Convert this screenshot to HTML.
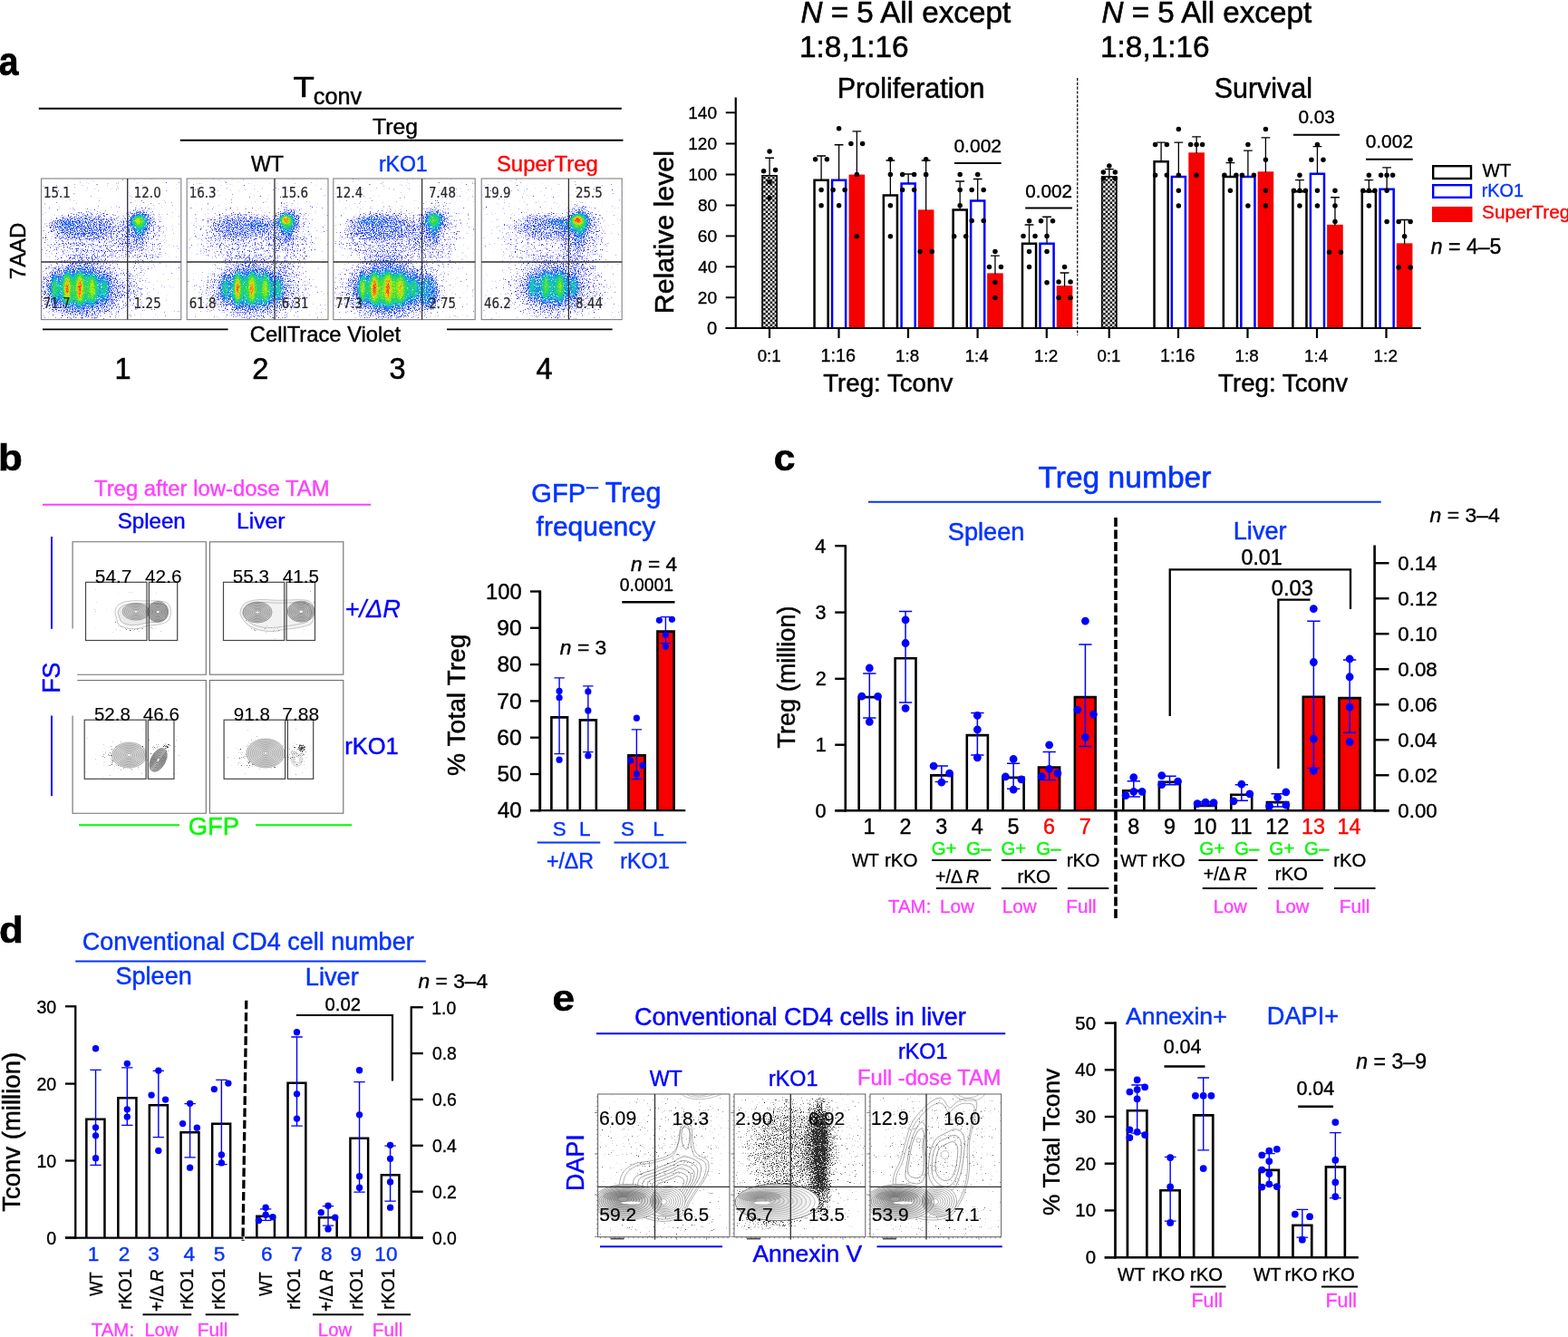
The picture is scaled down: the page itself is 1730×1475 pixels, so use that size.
<!DOCTYPE html>
<html lang="en"><head><meta charset="utf-8"><title>Figure</title>
<style>html,body{margin:0;padding:0;background:#fff}svg{display:block}text{white-space:pre}</style></head>
<body><svg width="1730" height="1475" viewBox="0 0 1730 1475" font-family="Liberation Sans, sans-serif">
<rect width="1730" height="1475" fill="#fff"/>
<defs>
<pattern id="chk" width="5" height="5" patternUnits="userSpaceOnUse" x="2.2" y="0"><rect width="5" height="5" fill="#fff"/><rect width="2.5" height="2.5" fill="#000"/><rect x="2.5" y="2.5" width="2.5" height="2.5" fill="#000"/></pattern>
<radialGradient id="gh"><stop offset="0" stop-color="#fff" stop-opacity="1"/><stop offset="0.55" stop-color="#fff" stop-opacity="0.92"/><stop offset="0.8" stop-color="#fff" stop-opacity="0.5"/><stop offset="1" stop-color="#fff" stop-opacity="0"/></radialGradient><radialGradient id="gb"><stop offset="0" stop-color="#fff" stop-opacity="1"/><stop offset="0.25" stop-color="#fff" stop-opacity="0.8"/><stop offset="0.5" stop-color="#fff" stop-opacity="0.42"/><stop offset="0.75" stop-color="#fff" stop-opacity="0.13"/><stop offset="1" stop-color="#fff" stop-opacity="0"/></radialGradient><filter id="dens" x="0" y="0" width="100%" height="100%" filterUnits="objectBoundingBox" color-interpolation-filters="sRGB"><feTurbulence type="fractalNoise" baseFrequency="0.85" numOctaves="2" seed="3" result="n"/><feColorMatrix in="SourceGraphic" type="matrix" values="0 0 0 1 0 0 0 0 1 0 0 0 0 1 0 0 0 0 0 1" result="dm"/><feColorMatrix in="n" type="matrix" values="0 1 0 0 0 0 1 0 0 0 0 1 0 0 0 0 0 0 0 1" result="n2"/><feComposite in="dm" in2="n2" operator="arithmetic" k1="0" k2="1" k3="0.4" k4="-0.2" result="v"/><feComponentTransfer in="v" result="col"><feFuncR type="table" tableValues="0.20 0.19 0.18 0.17 0.17 0.16 0.15 0.14 0.14 0.13 0.13 0.12 0.12 0.12 0.10 0.09 0.08 0.09 0.10 0.12 0.21 0.32 0.43 0.56 0.72 0.86 0.92 0.97 1.00 1.00 0.99 0.97 0.94"/><feFuncG type="table" tableValues="0.12 0.13 0.14 0.15 0.16 0.17 0.18 0.19 0.20 0.25 0.31 0.37 0.42 0.49 0.59 0.69 0.78 0.80 0.82 0.84 0.86 0.89 0.91 0.92 0.91 0.90 0.77 0.65 0.52 0.38 0.26 0.19 0.12"/><feFuncB type="table" tableValues="0.84 0.85 0.86 0.87 0.88 0.89 0.90 0.91 0.92 0.93 0.93 0.93 0.94 0.93 0.88 0.83 0.78 0.65 0.51 0.38 0.29 0.22 0.15 0.11 0.09 0.08 0.08 0.08 0.08 0.08 0.08 0.08 0.08"/></feComponentTransfer><feColorMatrix in="SourceGraphic" type="matrix" values="0 0 0 0 0 0 0 0 0 0 0 0 0 0 0 0 0 0 1 0" result="da"/><feColorMatrix in="n" type="matrix" values="0 0 0 0 0 0 0 0 0 0 0 0 0 0 0 1 0 0 0 0" result="na"/><feComposite in="da" in2="na" operator="arithmetic" k1="0" k2="6" k3="-6" k4="1.7" result="m"/><feComposite in="col" in2="m" operator="in" result="o1"/><feGaussianBlur in="o1" stdDeviation="0.45"/></filter><clipPath id="ca0"><rect x="45.5" y="197" width="154.3" height="155.6"/></clipPath><clipPath id="ca1"><rect x="206.2" y="197" width="155.8" height="155.6"/></clipPath><clipPath id="ca2"><rect x="367.8" y="197" width="156.4" height="155.6"/></clipPath><clipPath id="ca3"><rect x="531.2" y="197" width="155" height="155.6"/></clipPath>
<filter id="soft" x="-5%" y="-5%" width="110%" height="110%"><feGaussianBlur stdDeviation="0.45"/></filter>
<filter id="spk" x="0" y="0" width="100%" height="100%" filterUnits="objectBoundingBox" color-interpolation-filters="sRGB"><feTurbulence type="fractalNoise" baseFrequency="0.9" numOctaves="2" seed="7" result="n"/><feFlood flood-color="#444" result="col"/><feColorMatrix in="SourceGraphic" type="matrix" values="0 0 0 0 0 0 0 0 0 0 0 0 0 0 0 0 0 0 1 0" result="da"/><feColorMatrix in="n" type="matrix" values="0 0 0 0 0 0 0 0 0 0 0 0 0 0 0 1 0 0 0 0" result="na"/><feComposite in="da" in2="na" operator="arithmetic" k1="0" k2="6" k3="-6" k4="1.26" result="m"/><feComposite in="col" in2="m" operator="in" result="o1"/><feGaussianBlur in="o1" stdDeviation="0.3"/></filter>
<filter id="spe" x="0" y="0" width="100%" height="100%" filterUnits="objectBoundingBox" color-interpolation-filters="sRGB"><feTurbulence type="fractalNoise" baseFrequency="0.9" numOctaves="2" seed="11" result="n"/><feFlood flood-color="#2a2a2a" result="col"/><feColorMatrix in="SourceGraphic" type="matrix" values="0 0 0 0 0 0 0 0 0 0 0 0 0 0 0 0 0 0 1 0" result="da"/><feColorMatrix in="n" type="matrix" values="0 0 0 0 0 0 0 0 0 0 0 0 0 0 0 1 0 0 0 0" result="na"/><feComposite in="da" in2="na" operator="arithmetic" k1="0" k2="6" k3="-6" k4="1.5" result="m"/><feComposite in="col" in2="m" operator="in" result="o1"/><feGaussianBlur in="o1" stdDeviation="0.3"/></filter><clipPath id="ce0"><rect x="659.6" y="1207" width="145.4" height="157.6"/></clipPath><clipPath id="ce1"><rect x="810" y="1207" width="144.8" height="157.6"/></clipPath><clipPath id="ce2"><rect x="960" y="1207" width="144.6" height="157.6"/></clipPath><radialGradient id="gw"><stop offset="0" stop-color="#fff" stop-opacity="1"/><stop offset="0.85" stop-color="#fff" stop-opacity="1"/><stop offset="1" stop-color="#fff" stop-opacity="0"/></radialGradient>
</defs>
<g clip-path="url(#ca0)"><g filter="url(#dens)"><rect x="41.5" y="193" width="162.3" height="163.6" fill="#fff" opacity="0"/><ellipse cx="92" cy="320" rx="68" ry="42" fill="url(#gh)" opacity="0.21"/><ellipse cx="88" cy="319" rx="52" ry="38" fill="url(#gb)" opacity="0.45"/><ellipse cx="88" cy="319" rx="38" ry="21" fill="url(#gh)" opacity="0.2"/><ellipse cx="60" cy="318" rx="6" ry="27" fill="url(#gb)" opacity="0.4"/><ellipse cx="74" cy="318" rx="6" ry="27" fill="url(#gb)" opacity="0.8"/><ellipse cx="88" cy="318" rx="6" ry="27" fill="url(#gb)" opacity="0.8"/><ellipse cx="102" cy="318" rx="6" ry="27" fill="url(#gb)" opacity="0.45"/><ellipse cx="116" cy="318" rx="6" ry="27" fill="url(#gb)" opacity="0.25"/><ellipse cx="158" cy="262" rx="30" ry="44" fill="url(#gh)" opacity="0.14"/><ellipse cx="155" cy="254" rx="12" ry="32" fill="url(#gb)" opacity="0.23"/><ellipse cx="154" cy="245" rx="20" ry="18" fill="url(#gb)" opacity="0.5"/><ellipse cx="152" cy="243" rx="9" ry="8" fill="url(#gb)" opacity="0.5"/><ellipse cx="99.1" cy="262" rx="61.6" ry="36" fill="url(#gh)" opacity="0.18"/><ellipse cx="92" cy="250" rx="45.7" ry="17" fill="url(#gh)" opacity="0.15"/><ellipse cx="72" cy="247" rx="26" ry="9" fill="url(#gb)" opacity="0.14"/><ellipse cx="152" cy="320" rx="16" ry="32" fill="url(#gh)" opacity="0.09"/></g></g>
<rect x="45.5" y="197" width="154.3" height="155.6" fill="none" stroke="#808080" stroke-width="1.1" />
<path d="M140.7 197L140.7 352.6" stroke="#303030" stroke-width="1.3" fill="none" />
<path d="M45.5 289L199.8 289" stroke="#303030" stroke-width="1.3" fill="none" />
<text transform="translate(48.03 218) scale(0.8721 1)" font-size="15.36" font-family="DejaVu Sans, sans-serif" fill="#262626" stroke="#262626" stroke-width="0.23">15.1</text>
<text transform="translate(147.83 218) scale(0.8721 1)" font-size="15.36" font-family="DejaVu Sans, sans-serif" fill="#262626" stroke="#262626" stroke-width="0.23">12.0</text>
<text transform="translate(47.79 340.2) scale(0.8721 1)" font-size="15.36" font-family="DejaVu Sans, sans-serif" fill="#262626" stroke="#262626" stroke-width="0.23">71.7</text>
<text transform="translate(147.83 340.2) scale(0.8721 1)" font-size="15.36" font-family="DejaVu Sans, sans-serif" fill="#262626" stroke="#262626" stroke-width="0.23">1.25</text>
<g clip-path="url(#ca1)"><g filter="url(#dens)"><rect x="202.2" y="193" width="163.8" height="163.6" fill="#fff" opacity="0"/><ellipse cx="281.8" cy="320" rx="70" ry="42" fill="url(#gh)" opacity="0.19"/><ellipse cx="277.8" cy="319" rx="54" ry="38" fill="url(#gb)" opacity="0.4"/><ellipse cx="277.8" cy="319" rx="40" ry="21" fill="url(#gh)" opacity="0.2"/><ellipse cx="248" cy="318" rx="6" ry="27" fill="url(#gb)" opacity="0.3"/><ellipse cx="262" cy="318" rx="6" ry="27" fill="url(#gb)" opacity="0.8"/><ellipse cx="278" cy="318" rx="6" ry="27" fill="url(#gb)" opacity="0.72"/><ellipse cx="293" cy="318" rx="6" ry="27" fill="url(#gb)" opacity="0.5"/><ellipse cx="308" cy="318" rx="6" ry="27" fill="url(#gb)" opacity="0.3"/><ellipse cx="321" cy="261.6" rx="30" ry="44" fill="url(#gh)" opacity="0.14"/><ellipse cx="318" cy="253.6" rx="12" ry="32" fill="url(#gb)" opacity="0.23"/><ellipse cx="317" cy="244.6" rx="20" ry="18" fill="url(#gb)" opacity="0.5"/><ellipse cx="315" cy="242.6" rx="9" ry="8" fill="url(#gb)" opacity="0.8"/><ellipse cx="265.5" cy="262" rx="57.5" ry="36" fill="url(#gh)" opacity="0.17"/><ellipse cx="266" cy="250" rx="41.76" ry="17" fill="url(#gh)" opacity="0.15"/><ellipse cx="285" cy="248" rx="22" ry="8" fill="url(#gb)" opacity="0.12"/></g></g>
<rect x="206.2" y="197" width="155.8" height="155.6" fill="none" stroke="#808080" stroke-width="1.1" />
<path d="M303 197L303 352.6" stroke="#303030" stroke-width="1.3" fill="none" />
<path d="M206.2 289L362 289" stroke="#303030" stroke-width="1.3" fill="none" />
<text transform="translate(208.73 218) scale(0.8721 1)" font-size="15.36" font-family="DejaVu Sans, sans-serif" fill="#262626" stroke="#262626" stroke-width="0.23">16.3</text>
<text transform="translate(310.13 218) scale(0.8721 1)" font-size="15.36" font-family="DejaVu Sans, sans-serif" fill="#262626" stroke="#262626" stroke-width="0.23">15.6</text>
<text transform="translate(208.66 340.2) scale(0.8721 1)" font-size="15.36" font-family="DejaVu Sans, sans-serif" fill="#262626" stroke="#262626" stroke-width="0.23">61.8</text>
<text transform="translate(310.66 340.2) scale(0.8721 1)" font-size="15.36" font-family="DejaVu Sans, sans-serif" fill="#262626" stroke="#262626" stroke-width="0.23">6.31</text>
<g clip-path="url(#ca2)"><g filter="url(#dens)"><rect x="363.8" y="193" width="164.4" height="163.6" fill="#fff" opacity="0"/><ellipse cx="432.2" cy="320" rx="69" ry="42" fill="url(#gh)" opacity="0.23"/><ellipse cx="428.2" cy="319" rx="53" ry="38" fill="url(#gb)" opacity="0.5"/><ellipse cx="428.2" cy="319" rx="39" ry="21" fill="url(#gh)" opacity="0.25"/><ellipse cx="400" cy="318" rx="6" ry="27" fill="url(#gb)" opacity="0.55"/><ellipse cx="413" cy="318" rx="6" ry="27" fill="url(#gb)" opacity="0.85"/><ellipse cx="428" cy="318" rx="6" ry="27" fill="url(#gb)" opacity="0.75"/><ellipse cx="442" cy="318" rx="6" ry="27" fill="url(#gb)" opacity="0.5"/><ellipse cx="458" cy="318" rx="6" ry="27" fill="url(#gb)" opacity="0.25"/><ellipse cx="483" cy="260" rx="30" ry="44" fill="url(#gh)" opacity="0.14"/><ellipse cx="480" cy="252" rx="12" ry="32" fill="url(#gb)" opacity="0.22"/><ellipse cx="479" cy="243" rx="20" ry="18" fill="url(#gb)" opacity="0.48"/><ellipse cx="477" cy="241" rx="9" ry="8" fill="url(#gb)" opacity="0.2"/><ellipse cx="425.8" cy="262" rx="59.8" ry="36" fill="url(#gh)" opacity="0.2"/><ellipse cx="420" cy="250" rx="43.97" ry="17" fill="url(#gh)" opacity="0.14"/><ellipse cx="405" cy="243" rx="30" ry="9" fill="url(#gb)" opacity="0.16"/><ellipse cx="473" cy="322" rx="13" ry="24" fill="url(#gh)" opacity="0.26"/></g></g>
<rect x="367.8" y="197" width="156.4" height="155.6" fill="none" stroke="#808080" stroke-width="1.1" />
<path d="M465.6 197L465.6 352.6" stroke="#303030" stroke-width="1.3" fill="none" />
<path d="M367.8 289L524.2 289" stroke="#303030" stroke-width="1.3" fill="none" />
<text transform="translate(370.33 218) scale(0.8721 1)" font-size="15.36" font-family="DejaVu Sans, sans-serif" fill="#262626" stroke="#262626" stroke-width="0.23">12.4</text>
<text transform="translate(473.09 218) scale(0.8721 1)" font-size="15.36" font-family="DejaVu Sans, sans-serif" fill="#262626" stroke="#262626" stroke-width="0.23">7.48</text>
<text transform="translate(370.09 340.2) scale(0.8721 1)" font-size="15.36" font-family="DejaVu Sans, sans-serif" fill="#262626" stroke="#262626" stroke-width="0.23">77.3</text>
<text transform="translate(473.23 340.2) scale(0.8721 1)" font-size="15.36" font-family="DejaVu Sans, sans-serif" fill="#262626" stroke="#262626" stroke-width="0.23">2.75</text>
<g clip-path="url(#ca3)"><g filter="url(#dens)"><rect x="527.2" y="193" width="163" height="163.6" fill="#fff" opacity="0"/><ellipse cx="614.25" cy="318" rx="63.5" ry="42" fill="url(#gh)" opacity="0.18"/><ellipse cx="610.25" cy="317" rx="47.5" ry="38" fill="url(#gb)" opacity="0.33"/><ellipse cx="610.25" cy="317" rx="33.5" ry="21" fill="url(#gh)" opacity="0.15"/><ellipse cx="587" cy="316" rx="6" ry="24" fill="url(#gb)" opacity="0.3"/><ellipse cx="602" cy="316" rx="6" ry="24" fill="url(#gb)" opacity="0.35"/><ellipse cx="618" cy="316" rx="6" ry="24" fill="url(#gb)" opacity="0.45"/><ellipse cx="634" cy="316" rx="6" ry="24" fill="url(#gb)" opacity="0.25"/><ellipse cx="643" cy="261.6" rx="30" ry="44" fill="url(#gh)" opacity="0.17"/><ellipse cx="640" cy="253.6" rx="12" ry="32" fill="url(#gb)" opacity="0.26"/><ellipse cx="639" cy="244.6" rx="20" ry="18" fill="url(#gb)" opacity="0.58"/><ellipse cx="637" cy="242.6" rx="9" ry="8" fill="url(#gb)" opacity="0.95"/><ellipse cx="594.7" cy="262" rx="52.7" ry="36" fill="url(#gh)" opacity="0.12"/><ellipse cx="600" cy="250" rx="37.15" ry="17" fill="url(#gh)" opacity="0.18"/><ellipse cx="616" cy="245" rx="20" ry="8" fill="url(#gb)" opacity="0.2"/></g></g>
<rect x="531.2" y="197" width="155" height="155.6" fill="none" stroke="#808080" stroke-width="1.1" />
<path d="M627.4 197L627.4 352.6" stroke="#303030" stroke-width="1.3" fill="none" />
<path d="M531.2 289L686.2 289" stroke="#303030" stroke-width="1.3" fill="none" />
<text transform="translate(533.73 218) scale(0.8721 1)" font-size="15.36" font-family="DejaVu Sans, sans-serif" fill="#262626" stroke="#262626" stroke-width="0.23">19.9</text>
<text transform="translate(635.03 218) scale(0.8721 1)" font-size="15.36" font-family="DejaVu Sans, sans-serif" fill="#262626" stroke="#262626" stroke-width="0.23">25.5</text>
<text transform="translate(533.96 340.2) scale(0.8721 1)" font-size="15.36" font-family="DejaVu Sans, sans-serif" fill="#262626" stroke="#262626" stroke-width="0.23">46.2</text>
<text transform="translate(635.1 340.2) scale(0.8721 1)" font-size="15.36" font-family="DejaVu Sans, sans-serif" fill="#262626" stroke="#262626" stroke-width="0.23">8.44</text>
<text transform="translate(-1.17 83) scale(0.8980 1)" font-size="43.5" font-family="Liberation Sans, sans-serif" font-weight="bold" fill="#000" stroke="#000" stroke-width="0.65">a</text>
<text transform="translate(323.54 107.3) scale(1.1956 1)" font-size="31.98" font-family="Liberation Sans, sans-serif" fill="#000" stroke="#000" stroke-width="0.56">T</text>
<text transform="translate(345.73 114.7)" font-size="25.3" font-family="Liberation Sans, sans-serif" fill="#000" stroke="#000" stroke-width="0.44">conv</text>
<path d="M42.8 119.7L685.8 119.7" stroke="#000" stroke-width="1.9" fill="none" />
<text transform="translate(411.04 147.7)" font-size="24.73" font-family="Liberation Sans, sans-serif" fill="#000" stroke="#000" stroke-width="0.43">Treg</text>
<path d="M198.8 154.8L687.5 154.8" stroke="#000" stroke-width="1.9" fill="none" />
<text transform="translate(276.88 188.9)" font-size="23.18" font-family="Liberation Sans, sans-serif" fill="#000" stroke="#000" stroke-width="0.41">WT</text>
<text transform="translate(417.9 188.9)" font-size="23.06" font-family="Liberation Sans, sans-serif" fill="#0433ff" stroke="#0433ff" stroke-width="0.4">rKO1</text>
<text transform="translate(547.93 188.9)" font-size="23.89" font-family="Liberation Sans, sans-serif" fill="#ff0000" stroke="#ff0000" stroke-width="0.42">SuperTreg</text>
<text transform="translate(27.6 308.2) rotate(-90)" font-size="23.98" font-family="Liberation Sans, sans-serif" fill="#000" stroke="#000" stroke-width="0.42">7AAD</text>
<path d="M47 363.4L251.6 363.4" stroke="#000" stroke-width="1.9" fill="none" />
<path d="M493 363.4L675.6 363.4" stroke="#000" stroke-width="1.9" fill="none" />
<text transform="translate(275.81 377.3)" font-size="23.76" font-family="Liberation Sans, sans-serif" fill="#000" stroke="#000" stroke-width="0.42">CellTrace Violet</text>
<text transform="translate(126.53 418.3)" font-size="32.5" font-family="Liberation Sans, sans-serif" fill="#000" stroke="#000" stroke-width="0.57">1</text>
<text transform="translate(278.28 418.3)" font-size="32.5" font-family="Liberation Sans, sans-serif" fill="#000" stroke="#000" stroke-width="0.57">2</text>
<text transform="translate(429.56 418.3)" font-size="32.5" font-family="Liberation Sans, sans-serif" fill="#000" stroke="#000" stroke-width="0.57">3</text>
<text transform="translate(591.56 418.3)" font-size="32.5" font-family="Liberation Sans, sans-serif" fill="#000" stroke="#000" stroke-width="0.57">4</text>
<path d="M811.75 107.5L811.75 363" stroke="#000" stroke-width="2.2" fill="none" />
<path d="M800.75 362L1567.5 362" stroke="#000" stroke-width="2.2" fill="none" />
<path d="M800.75 124.25L811.75 124.25" stroke="#000" stroke-width="2" fill="none" />
<text transform="translate(759.27 130.85)" font-size="19.04" font-family="Liberation Sans, sans-serif" fill="#000" stroke="#000" stroke-width="0.33">140</text>
<path d="M800.75 158.5L811.75 158.5" stroke="#000" stroke-width="2" fill="none" />
<text transform="translate(759.27 165.1)" font-size="19.04" font-family="Liberation Sans, sans-serif" fill="#000" stroke="#000" stroke-width="0.33">120</text>
<path d="M800.75 192.5L811.75 192.5" stroke="#000" stroke-width="2" fill="none" />
<text transform="translate(759.27 199.1)" font-size="19.04" font-family="Liberation Sans, sans-serif" fill="#000" stroke="#000" stroke-width="0.33">100</text>
<path d="M800.75 226.5L811.75 226.5" stroke="#000" stroke-width="2" fill="none" />
<text transform="translate(769.89 233.1)" font-size="19.03" font-family="Liberation Sans, sans-serif" fill="#000" stroke="#000" stroke-width="0.33">80</text>
<path d="M800.75 260.4L811.75 260.4" stroke="#000" stroke-width="2" fill="none" />
<text transform="translate(769.74 267)" font-size="19.17" font-family="Liberation Sans, sans-serif" fill="#000" stroke="#000" stroke-width="0.34">60</text>
<path d="M800.75 294.3L811.75 294.3" stroke="#000" stroke-width="2" fill="none" />
<text transform="translate(770.28 300.9)" font-size="18.67" font-family="Liberation Sans, sans-serif" fill="#000" stroke="#000" stroke-width="0.33">40</text>
<path d="M800.75 328.2L811.75 328.2" stroke="#000" stroke-width="2" fill="none" />
<text transform="translate(769.74 334.8)" font-size="19.17" font-family="Liberation Sans, sans-serif" fill="#000" stroke="#000" stroke-width="0.34">20</text>
<path d="M800.75 362L811.75 362" stroke="#000" stroke-width="2" fill="none" />
<text transform="translate(779.9 368.6)" font-size="20.1" font-family="Liberation Sans, sans-serif" fill="#000" stroke="#000" stroke-width="0.35">0</text>
<path d="M849 362L849 373" stroke="#000" stroke-width="2.2" fill="none" />
<text transform="translate(835.63 398.9)" font-size="18.62" font-family="Liberation Sans, sans-serif" fill="#000" stroke="#000" stroke-width="0.33">0:1</text>
<path d="M925.5 362L925.5 373" stroke="#000" stroke-width="2.2" fill="none" />
<text transform="translate(905.41 398.9)" font-size="19.81" font-family="Liberation Sans, sans-serif" fill="#000" stroke="#000" stroke-width="0.35">1:16</text>
<path d="M1002 362L1002 373" stroke="#000" stroke-width="2.2" fill="none" />
<text transform="translate(988.09 398.9)" font-size="18.86" font-family="Liberation Sans, sans-serif" fill="#000" stroke="#000" stroke-width="0.33">1:8</text>
<path d="M1078.6 362L1078.6 373" stroke="#000" stroke-width="2.2" fill="none" />
<text transform="translate(1064.7 398.9)" font-size="18.64" font-family="Liberation Sans, sans-serif" fill="#000" stroke="#000" stroke-width="0.33">1:4</text>
<path d="M1154.8 362L1154.8 373" stroke="#000" stroke-width="2.2" fill="none" />
<text transform="translate(1140.88 398.9)" font-size="18.97" font-family="Liberation Sans, sans-serif" fill="#000" stroke="#000" stroke-width="0.33">1:2</text>
<path d="M1223.75 362L1223.75 373" stroke="#000" stroke-width="2.2" fill="none" />
<text transform="translate(1210.38 398.9)" font-size="18.62" font-family="Liberation Sans, sans-serif" fill="#000" stroke="#000" stroke-width="0.33">0:1</text>
<path d="M1300 362L1300 373" stroke="#000" stroke-width="2.2" fill="none" />
<text transform="translate(1279.91 398.9)" font-size="19.81" font-family="Liberation Sans, sans-serif" fill="#000" stroke="#000" stroke-width="0.35">1:16</text>
<path d="M1376.5 362L1376.5 373" stroke="#000" stroke-width="2.2" fill="none" />
<text transform="translate(1362.59 398.9)" font-size="18.86" font-family="Liberation Sans, sans-serif" fill="#000" stroke="#000" stroke-width="0.33">1:8</text>
<path d="M1453 362L1453 373" stroke="#000" stroke-width="2.2" fill="none" />
<text transform="translate(1439.1 398.9)" font-size="18.64" font-family="Liberation Sans, sans-serif" fill="#000" stroke="#000" stroke-width="0.33">1:4</text>
<path d="M1529.5 362L1529.5 373" stroke="#000" stroke-width="2.2" fill="none" />
<text transform="translate(1515.58 398.9)" font-size="18.97" font-family="Liberation Sans, sans-serif" fill="#000" stroke="#000" stroke-width="0.33">1:2</text>
<path d="M1188.75 86L1188.75 370" stroke="#000" stroke-width="1.2" fill="none" stroke-dasharray="3.2 1.6"/>
<rect x="840.27" y="193" width="17.6" height="169" fill="url(#chk)" stroke="none" stroke-width="0" />
<path d="M841.07 362V193.8H857.07V362" fill="none" stroke="#000" stroke-width="1.6"/>
<path d="M849.07 174.24V194M844.17 174.24H853.97" stroke="#000" stroke-width="1.3" fill="none"/>
<path d="M898.55 362V198.85H913.65V362" fill="#fff" stroke="#000" stroke-width="2.5"/>
<path d="M906.1 171.99V198.6M901.2 171.99H911" stroke="#000" stroke-width="1.3" fill="none"/>
<path d="M918.06 362V198.85H933.16V362" fill="#fff" stroke="#0000ff" stroke-width="2.5"/>
<path d="M925.61 159.73V198.6M920.71 159.73H930.51" stroke="#000" stroke-width="1.3" fill="none"/>
<rect x="936.57" y="192.6" width="17.6" height="168.4" fill="#f60000" stroke="none" stroke-width="0" />
<path d="M945.37 144.97V193.6M940.47 144.97H950.27" stroke="#000" stroke-width="1.3" fill="none"/>
<path d="M974.84 362V215.61H989.94V362" fill="#fff" stroke="#000" stroke-width="2.5"/>
<path d="M982.39 176.99V215.36M977.49 176.99H987.29" stroke="#000" stroke-width="1.3" fill="none"/>
<path d="M994.6 362V202.6H1009.7V362" fill="#fff" stroke="#0000ff" stroke-width="2.5"/>
<path d="M1002.15 192V202.35M997.25 192H1007.05" stroke="#000" stroke-width="1.3" fill="none"/>
<rect x="1012.86" y="231.37" width="17.6" height="129.63" fill="#f60000" stroke="none" stroke-width="0" />
<path d="M1021.66 176.99V232.37M1016.76 176.99H1026.56" stroke="#000" stroke-width="1.3" fill="none"/>
<path d="M1051.63 362V231.62H1066.73V362" fill="#fff" stroke="#000" stroke-width="2.5"/>
<path d="M1059.18 200V231.37M1054.28 200H1064.08" stroke="#000" stroke-width="1.3" fill="none"/>
<path d="M1071.14 362V221.61H1086.24V362" fill="#fff" stroke="#0000ff" stroke-width="2.5"/>
<path d="M1078.69 197.5V221.36M1073.79 197.5H1083.59" stroke="#000" stroke-width="1.3" fill="none"/>
<rect x="1089.15" y="301.4" width="17.6" height="59.6" fill="#f60000" stroke="none" stroke-width="0" />
<path d="M1097.95 282.04V302.4M1093.05 282.04H1102.85" stroke="#000" stroke-width="1.3" fill="none"/>
<path d="M1127.99 362V268.85H1143.09V362" fill="#fff" stroke="#000" stroke-width="2.5"/>
<path d="M1135.54 247.99V268.6M1130.64 247.99H1140.44" stroke="#000" stroke-width="1.3" fill="none"/>
<path d="M1147.5 362V268.85H1162.6V362" fill="#fff" stroke="#0000ff" stroke-width="2.5"/>
<path d="M1155.05 239.24V268.6M1150.15 239.24H1159.95" stroke="#000" stroke-width="1.3" fill="none"/>
<rect x="1165.76" y="315.13" width="17.6" height="45.87" fill="#f60000" stroke="none" stroke-width="0" />
<path d="M1174.56 301.02V316.13M1169.66 301.02H1179.46" stroke="#000" stroke-width="1.3" fill="none"/>
<rect x="1215.03" y="194.22" width="17.6" height="167.78" fill="url(#chk)" stroke="none" stroke-width="0" />
<path d="M1215.83 362V195.02H1231.83V362" fill="none" stroke="#000" stroke-width="1.6"/>
<path d="M1223.83 186.71V195.22M1218.93 186.71H1228.73" stroke="#000" stroke-width="1.3" fill="none"/>
<path d="M1273.56 362V178.31H1288.66V362" fill="#fff" stroke="#000" stroke-width="2.5"/>
<path d="M1281.11 157.2V178.06M1276.21 157.2H1286.01" stroke="#000" stroke-width="1.3" fill="none"/>
<path d="M1292.82 362V195.07H1307.92V362" fill="#fff" stroke="#0000ff" stroke-width="2.5"/>
<path d="M1300.37 157.2V194.82M1295.47 157.2H1305.27" stroke="#000" stroke-width="1.3" fill="none"/>
<rect x="1311.33" y="168.3" width="17.6" height="192.7" fill="#f60000" stroke="none" stroke-width="0" />
<path d="M1320.13 150.95V169.3M1315.23 150.95H1325.03" stroke="#000" stroke-width="1.3" fill="none"/>
<path d="M1349.85 362V195.07H1364.95V362" fill="#fff" stroke="#000" stroke-width="2.5"/>
<path d="M1357.4 179.71V194.82M1352.5 179.71H1362.3" stroke="#000" stroke-width="1.3" fill="none"/>
<path d="M1369.36 362V195.07H1384.46V362" fill="#fff" stroke="#0000ff" stroke-width="2.5"/>
<path d="M1376.91 166.2V194.82M1372.01 166.2H1381.81" stroke="#000" stroke-width="1.3" fill="none"/>
<rect x="1387.62" y="189.31" width="17.6" height="171.69" fill="#f60000" stroke="none" stroke-width="0" />
<path d="M1396.42 151.95V190.31M1391.52 151.95H1401.32" stroke="#000" stroke-width="1.3" fill="none"/>
<path d="M1426.39 362V211.33H1441.49V362" fill="#fff" stroke="#000" stroke-width="2.5"/>
<path d="M1433.94 198.72V211.08M1429.04 198.72H1438.84" stroke="#000" stroke-width="1.3" fill="none"/>
<path d="M1445.9 362V191.82H1461V362" fill="#fff" stroke="#0000ff" stroke-width="2.5"/>
<path d="M1453.45 161.7V191.57M1448.55 161.7H1458.35" stroke="#000" stroke-width="1.3" fill="none"/>
<rect x="1464.16" y="247.84" width="17.6" height="113.16" fill="#f60000" stroke="none" stroke-width="0" />
<path d="M1472.96 217.73V248.84M1468.06 217.73H1477.86" stroke="#000" stroke-width="1.3" fill="none"/>
<path d="M1502.81 362V211.33H1517.91V362" fill="#fff" stroke="#000" stroke-width="2.5"/>
<path d="M1510.36 198.72V211.08M1505.46 198.72H1515.26" stroke="#000" stroke-width="1.3" fill="none"/>
<path d="M1522.57 362V208.82H1537.67V362" fill="#fff" stroke="#0000ff" stroke-width="2.5"/>
<path d="M1530.12 184.96V208.57M1525.22 184.96H1535.02" stroke="#000" stroke-width="1.3" fill="none"/>
<rect x="1540.83" y="268.35" width="17.6" height="92.65" fill="#f60000" stroke="none" stroke-width="0" />
<path d="M1549.63 242.49V269.35M1544.73 242.49H1554.53" stroke="#000" stroke-width="1.3" fill="none"/>
<path d="M846.32 167.08a2.75 2.75 0 1 0 5.5 0a2.75 2.75 0 1 0 -5.5 0M839.82 188.84a2.75 2.75 0 1 0 5.5 0a2.75 2.75 0 1 0 -5.5 0M852.83 187.59a2.75 2.75 0 1 0 5.5 0a2.75 2.75 0 1 0 -5.5 0M846.32 200.85a2.75 2.75 0 1 0 5.5 0a2.75 2.75 0 1 0 -5.5 0M846.32 218.36a2.75 2.75 0 1 0 5.5 0a2.75 2.75 0 1 0 -5.5 0M896.85 175.84a2.75 2.75 0 1 0 5.5 0a2.75 2.75 0 1 0 -5.5 0M909.61 175.84a2.75 2.75 0 1 0 5.5 0a2.75 2.75 0 1 0 -5.5 0M903.35 209.6a2.75 2.75 0 1 0 5.5 0a2.75 2.75 0 1 0 -5.5 0M903.35 226.86a2.75 2.75 0 1 0 5.5 0a2.75 2.75 0 1 0 -5.5 0M922.86 141.82a2.75 2.75 0 1 0 5.5 0a2.75 2.75 0 1 0 -5.5 0M916.36 209.6a2.75 2.75 0 1 0 5.5 0a2.75 2.75 0 1 0 -5.5 0M929.37 209.6a2.75 2.75 0 1 0 5.5 0a2.75 2.75 0 1 0 -5.5 0M922.86 226.86a2.75 2.75 0 1 0 5.5 0a2.75 2.75 0 1 0 -5.5 0M936.12 158.58a2.75 2.75 0 1 0 5.5 0a2.75 2.75 0 1 0 -5.5 0M948.88 158.58a2.75 2.75 0 1 0 5.5 0a2.75 2.75 0 1 0 -5.5 0M942.62 192.6a2.75 2.75 0 1 0 5.5 0a2.75 2.75 0 1 0 -5.5 0M942.62 260.63a2.75 2.75 0 1 0 5.5 0a2.75 2.75 0 1 0 -5.5 0M979.64 175.84a2.75 2.75 0 1 0 5.5 0a2.75 2.75 0 1 0 -5.5 0M979.64 192.6a2.75 2.75 0 1 0 5.5 0a2.75 2.75 0 1 0 -5.5 0M979.64 226.86a2.75 2.75 0 1 0 5.5 0a2.75 2.75 0 1 0 -5.5 0M979.64 260.63a2.75 2.75 0 1 0 5.5 0a2.75 2.75 0 1 0 -5.5 0M992.9 192.6a2.75 2.75 0 1 0 5.5 0a2.75 2.75 0 1 0 -5.5 0M1005.9 192.6a2.75 2.75 0 1 0 5.5 0a2.75 2.75 0 1 0 -5.5 0M992.9 209.6a2.75 2.75 0 1 0 5.5 0a2.75 2.75 0 1 0 -5.5 0M1005.9 209.6a2.75 2.75 0 1 0 5.5 0a2.75 2.75 0 1 0 -5.5 0M1018.91 175.84a2.75 2.75 0 1 0 5.5 0a2.75 2.75 0 1 0 -5.5 0M1018.91 192.6a2.75 2.75 0 1 0 5.5 0a2.75 2.75 0 1 0 -5.5 0M1012.41 277.39a2.75 2.75 0 1 0 5.5 0a2.75 2.75 0 1 0 -5.5 0M1025.41 277.39a2.75 2.75 0 1 0 5.5 0a2.75 2.75 0 1 0 -5.5 0M1056.43 192.6a2.75 2.75 0 1 0 5.5 0a2.75 2.75 0 1 0 -5.5 0M1056.43 209.6a2.75 2.75 0 1 0 5.5 0a2.75 2.75 0 1 0 -5.5 0M1056.43 226.86a2.75 2.75 0 1 0 5.5 0a2.75 2.75 0 1 0 -5.5 0M1049.93 260.63a2.75 2.75 0 1 0 5.5 0a2.75 2.75 0 1 0 -5.5 0M1062.93 260.63a2.75 2.75 0 1 0 5.5 0a2.75 2.75 0 1 0 -5.5 0M1075.94 192.6a2.75 2.75 0 1 0 5.5 0a2.75 2.75 0 1 0 -5.5 0M1069.44 209.6a2.75 2.75 0 1 0 5.5 0a2.75 2.75 0 1 0 -5.5 0M1082.44 209.6a2.75 2.75 0 1 0 5.5 0a2.75 2.75 0 1 0 -5.5 0M1069.44 243.62a2.75 2.75 0 1 0 5.5 0a2.75 2.75 0 1 0 -5.5 0M1082.44 243.62a2.75 2.75 0 1 0 5.5 0a2.75 2.75 0 1 0 -5.5 0M1095.2 277.39a2.75 2.75 0 1 0 5.5 0a2.75 2.75 0 1 0 -5.5 0M1088.7 294.4a2.75 2.75 0 1 0 5.5 0a2.75 2.75 0 1 0 -5.5 0M1101.7 294.4a2.75 2.75 0 1 0 5.5 0a2.75 2.75 0 1 0 -5.5 0M1095.2 311.41a2.75 2.75 0 1 0 5.5 0a2.75 2.75 0 1 0 -5.5 0M1095.2 328.41a2.75 2.75 0 1 0 5.5 0a2.75 2.75 0 1 0 -5.5 0M1132.79 243.84a2.75 2.75 0 1 0 5.5 0a2.75 2.75 0 1 0 -5.5 0M1126.28 260.6a2.75 2.75 0 1 0 5.5 0a2.75 2.75 0 1 0 -5.5 0M1139.29 260.6a2.75 2.75 0 1 0 5.5 0a2.75 2.75 0 1 0 -5.5 0M1132.79 277.61a2.75 2.75 0 1 0 5.5 0a2.75 2.75 0 1 0 -5.5 0M1132.79 294.62a2.75 2.75 0 1 0 5.5 0a2.75 2.75 0 1 0 -5.5 0M1145.79 243.84a2.75 2.75 0 1 0 5.5 0a2.75 2.75 0 1 0 -5.5 0M1158.8 243.84a2.75 2.75 0 1 0 5.5 0a2.75 2.75 0 1 0 -5.5 0M1152.3 260.6a2.75 2.75 0 1 0 5.5 0a2.75 2.75 0 1 0 -5.5 0M1152.3 277.61a2.75 2.75 0 1 0 5.5 0a2.75 2.75 0 1 0 -5.5 0M1152.3 311.63a2.75 2.75 0 1 0 5.5 0a2.75 2.75 0 1 0 -5.5 0M1171.81 294.62a2.75 2.75 0 1 0 5.5 0a2.75 2.75 0 1 0 -5.5 0M1165.3 310.88a2.75 2.75 0 1 0 5.5 0a2.75 2.75 0 1 0 -5.5 0M1178.31 310.88a2.75 2.75 0 1 0 5.5 0a2.75 2.75 0 1 0 -5.5 0M1165.3 328.38a2.75 2.75 0 1 0 5.5 0a2.75 2.75 0 1 0 -5.5 0M1178.31 328.38a2.75 2.75 0 1 0 5.5 0a2.75 2.75 0 1 0 -5.5 0M1221.08 183.06a2.75 2.75 0 1 0 5.5 0a2.75 2.75 0 1 0 -5.5 0M1214.58 190.07a2.75 2.75 0 1 0 5.5 0a2.75 2.75 0 1 0 -5.5 0M1227.59 190.07a2.75 2.75 0 1 0 5.5 0a2.75 2.75 0 1 0 -5.5 0M1214.58 197.07a2.75 2.75 0 1 0 5.5 0a2.75 2.75 0 1 0 -5.5 0M1227.59 197.07a2.75 2.75 0 1 0 5.5 0a2.75 2.75 0 1 0 -5.5 0M1271.86 159.55a2.75 2.75 0 1 0 5.5 0a2.75 2.75 0 1 0 -5.5 0M1284.61 159.55a2.75 2.75 0 1 0 5.5 0a2.75 2.75 0 1 0 -5.5 0M1271.86 193.32a2.75 2.75 0 1 0 5.5 0a2.75 2.75 0 1 0 -5.5 0M1284.61 193.32a2.75 2.75 0 1 0 5.5 0a2.75 2.75 0 1 0 -5.5 0M1297.62 142.54a2.75 2.75 0 1 0 5.5 0a2.75 2.75 0 1 0 -5.5 0M1297.62 193.32a2.75 2.75 0 1 0 5.5 0a2.75 2.75 0 1 0 -5.5 0M1297.62 210.33a2.75 2.75 0 1 0 5.5 0a2.75 2.75 0 1 0 -5.5 0M1297.62 227.08a2.75 2.75 0 1 0 5.5 0a2.75 2.75 0 1 0 -5.5 0M1310.88 159.55a2.75 2.75 0 1 0 5.5 0a2.75 2.75 0 1 0 -5.5 0M1317.38 159.55a2.75 2.75 0 1 0 5.5 0a2.75 2.75 0 1 0 -5.5 0M1323.88 159.55a2.75 2.75 0 1 0 5.5 0a2.75 2.75 0 1 0 -5.5 0M1317.38 193.32a2.75 2.75 0 1 0 5.5 0a2.75 2.75 0 1 0 -5.5 0M1354.65 176.31a2.75 2.75 0 1 0 5.5 0a2.75 2.75 0 1 0 -5.5 0M1348.15 193.32a2.75 2.75 0 1 0 5.5 0a2.75 2.75 0 1 0 -5.5 0M1361.15 193.32a2.75 2.75 0 1 0 5.5 0a2.75 2.75 0 1 0 -5.5 0M1354.65 210.33a2.75 2.75 0 1 0 5.5 0a2.75 2.75 0 1 0 -5.5 0M1374.16 159.55a2.75 2.75 0 1 0 5.5 0a2.75 2.75 0 1 0 -5.5 0M1367.66 193.32a2.75 2.75 0 1 0 5.5 0a2.75 2.75 0 1 0 -5.5 0M1380.66 193.32a2.75 2.75 0 1 0 5.5 0a2.75 2.75 0 1 0 -5.5 0M1374.16 227.08a2.75 2.75 0 1 0 5.5 0a2.75 2.75 0 1 0 -5.5 0M1393.67 142.54a2.75 2.75 0 1 0 5.5 0a2.75 2.75 0 1 0 -5.5 0M1393.67 176.31a2.75 2.75 0 1 0 5.5 0a2.75 2.75 0 1 0 -5.5 0M1393.67 210.33a2.75 2.75 0 1 0 5.5 0a2.75 2.75 0 1 0 -5.5 0M1393.67 227.08a2.75 2.75 0 1 0 5.5 0a2.75 2.75 0 1 0 -5.5 0M1431.19 193.32a2.75 2.75 0 1 0 5.5 0a2.75 2.75 0 1 0 -5.5 0M1424.68 210.33a2.75 2.75 0 1 0 5.5 0a2.75 2.75 0 1 0 -5.5 0M1431.19 210.33a2.75 2.75 0 1 0 5.5 0a2.75 2.75 0 1 0 -5.5 0M1437.69 210.33a2.75 2.75 0 1 0 5.5 0a2.75 2.75 0 1 0 -5.5 0M1431.19 227.08a2.75 2.75 0 1 0 5.5 0a2.75 2.75 0 1 0 -5.5 0M1450.7 159.55a2.75 2.75 0 1 0 5.5 0a2.75 2.75 0 1 0 -5.5 0M1444.19 176.31a2.75 2.75 0 1 0 5.5 0a2.75 2.75 0 1 0 -5.5 0M1457.2 176.31a2.75 2.75 0 1 0 5.5 0a2.75 2.75 0 1 0 -5.5 0M1450.7 210.33a2.75 2.75 0 1 0 5.5 0a2.75 2.75 0 1 0 -5.5 0M1450.7 227.08a2.75 2.75 0 1 0 5.5 0a2.75 2.75 0 1 0 -5.5 0M1470.21 210.33a2.75 2.75 0 1 0 5.5 0a2.75 2.75 0 1 0 -5.5 0M1470.21 227.08a2.75 2.75 0 1 0 5.5 0a2.75 2.75 0 1 0 -5.5 0M1470.21 244.59a2.75 2.75 0 1 0 5.5 0a2.75 2.75 0 1 0 -5.5 0M1463.7 278.36a2.75 2.75 0 1 0 5.5 0a2.75 2.75 0 1 0 -5.5 0M1476.71 278.36a2.75 2.75 0 1 0 5.5 0a2.75 2.75 0 1 0 -5.5 0M1507.61 193.32a2.75 2.75 0 1 0 5.5 0a2.75 2.75 0 1 0 -5.5 0M1501.1 210.33a2.75 2.75 0 1 0 5.5 0a2.75 2.75 0 1 0 -5.5 0M1507.61 210.33a2.75 2.75 0 1 0 5.5 0a2.75 2.75 0 1 0 -5.5 0M1514.11 210.33a2.75 2.75 0 1 0 5.5 0a2.75 2.75 0 1 0 -5.5 0M1507.61 227.08a2.75 2.75 0 1 0 5.5 0a2.75 2.75 0 1 0 -5.5 0M1520.86 193.32a2.75 2.75 0 1 0 5.5 0a2.75 2.75 0 1 0 -5.5 0M1527.37 193.32a2.75 2.75 0 1 0 5.5 0a2.75 2.75 0 1 0 -5.5 0M1533.87 193.32a2.75 2.75 0 1 0 5.5 0a2.75 2.75 0 1 0 -5.5 0M1527.37 210.33a2.75 2.75 0 1 0 5.5 0a2.75 2.75 0 1 0 -5.5 0M1527.37 244.59a2.75 2.75 0 1 0 5.5 0a2.75 2.75 0 1 0 -5.5 0M1540.37 244.59a2.75 2.75 0 1 0 5.5 0a2.75 2.75 0 1 0 -5.5 0M1553.38 244.59a2.75 2.75 0 1 0 5.5 0a2.75 2.75 0 1 0 -5.5 0M1546.88 260.85a2.75 2.75 0 1 0 5.5 0a2.75 2.75 0 1 0 -5.5 0M1540.37 295.12a2.75 2.75 0 1 0 5.5 0a2.75 2.75 0 1 0 -5.5 0M1553.38 295.12a2.75 2.75 0 1 0 5.5 0a2.75 2.75 0 1 0 -5.5 0" fill="#000"/>
<path d="M800.75 362L1567.5 362" stroke="#000" stroke-width="2.2" fill="none" />
<path d="M1053 180L1104.6 180" stroke="#000" stroke-width="2" fill="none" />
<text transform="translate(1052.41 168.3)" font-size="21.04" font-family="Liberation Sans, sans-serif" fill="#000" stroke="#000" stroke-width="0.37">0.002</text>
<path d="M1131.25 229.5L1183 229.5" stroke="#000" stroke-width="2" fill="none" />
<text transform="translate(1131.17 217.8)" font-size="20.73" font-family="Liberation Sans, sans-serif" fill="#000" stroke="#000" stroke-width="0.36">0.002</text>
<path d="M1427 148.8L1478 148.8" stroke="#000" stroke-width="2" fill="none" />
<text transform="translate(1432.42 135.8)" font-size="20.81" font-family="Liberation Sans, sans-serif" fill="#000" stroke="#000" stroke-width="0.36">0.03</text>
<path d="M1507 175.75L1558.75 175.75" stroke="#000" stroke-width="2" fill="none" />
<text transform="translate(1506.66 163.3)" font-size="20.93" font-family="Liberation Sans, sans-serif" fill="#000" stroke="#000" stroke-width="0.37">0.002</text>
<text transform="translate(923.73 108.3)" font-size="30.49" font-family="Liberation Sans, sans-serif" fill="#000" stroke="#000" stroke-width="0.53">Proliferation</text>
<text transform="translate(1339.63 108.3)" font-size="30.48" font-family="Liberation Sans, sans-serif" fill="#000" stroke="#000" stroke-width="0.53">Survival</text>
<text transform="translate(908.13 432.3)" font-size="27.7" font-family="Liberation Sans, sans-serif" fill="#000" stroke="#000" stroke-width="0.48">Treg: Tconv</text>
<text transform="translate(1344.08 432.3)" font-size="27.7" font-family="Liberation Sans, sans-serif" fill="#000" stroke="#000" stroke-width="0.48">Treg: Tconv</text>
<text transform="translate(883.5 25.3)" font-size="33.21" font-family="Liberation Sans, sans-serif" fill="#000" stroke="#000" stroke-width="0.58"><tspan font-style="italic">N</tspan> = 5 All except</text>
<text transform="translate(881.99 62.8)" font-size="33.4" font-family="Liberation Sans, sans-serif" fill="#000" stroke="#000" stroke-width="0.58">1:8,1:16</text>
<text transform="translate(1215.5 25.3)" font-size="33.21" font-family="Liberation Sans, sans-serif" fill="#000" stroke="#000" stroke-width="0.58"><tspan font-style="italic">N</tspan> = 5 All except</text>
<text transform="translate(1213.99 62.8)" font-size="33.4" font-family="Liberation Sans, sans-serif" fill="#000" stroke="#000" stroke-width="0.58">1:8,1:16</text>
<text transform="translate(743 346.25) rotate(-90)" font-size="30.31" font-family="Liberation Sans, sans-serif" fill="#000" stroke="#000" stroke-width="0.53">Relative level</text>
<rect x="1581.2" y="183.2" width="41.8" height="13.8" fill="#fff" stroke="#000" stroke-width="2.4"/>
<rect x="1581.2" y="204.2" width="41.8" height="13.6" fill="#fff" stroke="#0000ff" stroke-width="2.4"/>
<rect x="1580" y="228" width="44.5" height="17" fill="#f60000" stroke="none" stroke-width="0" />
<text transform="translate(1635.4 195.3)" font-size="20.46" font-family="Liberation Sans, sans-serif" fill="#000" stroke="#000" stroke-width="0.36">WT</text>
<text transform="translate(1634.71 216.55)" font-size="19.82" font-family="Liberation Sans, sans-serif" fill="#0433ff" stroke="#0433ff" stroke-width="0.35">rKO1</text>
<text transform="translate(1635.07 240.8)" font-size="20.74" font-family="Liberation Sans, sans-serif" fill="#ff0000" stroke="#ff0000" stroke-width="0.36">SuperTreg</text>
<text transform="translate(1578.85 280.3)" font-size="23.06" font-family="Liberation Sans, sans-serif" fill="#000" stroke="#000" stroke-width="0.4"><tspan font-style="italic">n</tspan> = 4–5</text>
<path d="M80.1 693.6L80.1 597.8L227.3 597.8L227.3 744.2L85.2 744.2" stroke="#6e6e6e" stroke-width="1.1" fill="none" />
<rect x="231.4" y="597.8" width="147.4" height="146.4" fill="none" stroke="#6e6e6e" stroke-width="1.1" />
<path d="M85.2 750.5L227.3 750.5L227.3 897.2L80.1 897.2L80.1 789.4" stroke="#6e6e6e" stroke-width="1.1" fill="none" />
<rect x="231.4" y="750.5" width="147.4" height="146.7" fill="none" stroke="#6e6e6e" stroke-width="1.1" />
<g filter="url(#spk)"><rect x="90" y="650" width="110" height="60" fill="#fff" opacity="0"/><ellipse cx="143" cy="690" rx="20" ry="9" fill="url(#gh)" opacity="0.2"/><ellipse cx="135" cy="680" rx="12" ry="12" fill="url(#gh)" opacity="0.12"/><ellipse cx="175" cy="692" rx="14" ry="8" fill="url(#gh)" opacity="0.1"/></g>
<g filter="url(#spk)"><rect x="240" y="650" width="110" height="60" fill="#fff" opacity="0"/><ellipse cx="290" cy="694" rx="30" ry="7" fill="url(#gh)" opacity="0.1"/></g>
<g filter="url(#spk)"><rect x="90" y="800" width="110" height="60" fill="#fff" opacity="0"/><ellipse cx="138" cy="834" rx="32" ry="20" fill="url(#gh)" opacity="0.2"/><ellipse cx="176" cy="830" rx="13" ry="16" fill="url(#gh)" opacity="0.2"/><ellipse cx="185" cy="823" rx="4" ry="4" fill="url(#gh)" opacity="0.3"/></g>
<g filter="url(#spk)"><rect x="240" y="800" width="110" height="60" fill="#fff" opacity="0"/><ellipse cx="288" cy="833" rx="38" ry="20" fill="url(#gh)" opacity="0.2"/><ellipse cx="329" cy="832" rx="12" ry="17" fill="url(#gh)" opacity="0.22"/><ellipse cx="333" cy="825" rx="5" ry="5" fill="url(#gh)" opacity="0.3"/></g>
<g filter="url(#soft)">
<path d="M127 676 C127 664 140 662 158 663 C170 663 178 662 184 665 C190 668 190 682 184 686 C176 690 168 689 160 691 C150 696 136 694 130 688 Z" fill="#fff" stroke="#555" stroke-width="0.7" stroke-opacity="0.5"/>
<path d="M130 676 C131 667 142 665 158 666 C168 666 176 665 181 667 C186 670 186 680 181 684 C174 687 166 686 158 688 C148 691 137 690 133 685 Z" fill="#555" fill-opacity="0.12" stroke="#555" stroke-width="0.7" stroke-opacity="0.5"/>
<g fill="none" stroke="#4a4a4a" stroke-width="0.7" stroke-opacity="0.5"><ellipse cx="150" cy="674.7" rx="15" ry="9.5" fill="#4a4a4a" fill-opacity="0.18" stroke="none"/><ellipse cx="150" cy="674.7" rx="15" ry="9.5"/><ellipse cx="150" cy="674.7" rx="12.8" ry="8.11"/><ellipse cx="150" cy="674.7" rx="10.6" ry="6.71"/><ellipse cx="150" cy="674.7" rx="8.4" ry="5.32"/><ellipse cx="150" cy="674.7" rx="6.2" ry="3.93"/><ellipse cx="150" cy="674.7" rx="4" ry="2.53"/><ellipse cx="150" cy="674.7" rx="1.8" ry="1.14"/><ellipse cx="150" cy="674.7" rx="1.44" ry="0.91" fill="#fff" stroke="none"/></g>
<g fill="none" stroke="#4a4a4a" stroke-width="0.7" stroke-opacity="0.65"><ellipse cx="174.3" cy="675" rx="11.5" ry="11.5" fill="#4a4a4a" fill-opacity="0.28" stroke="none"/><ellipse cx="174.3" cy="675" rx="11.5" ry="11.5"/><ellipse cx="174.3" cy="675" rx="10.09" ry="10.09"/><ellipse cx="174.3" cy="675" rx="8.67" ry="8.67"/><ellipse cx="174.3" cy="675" rx="7.26" ry="7.26"/><ellipse cx="174.3" cy="675" rx="5.85" ry="5.85"/><ellipse cx="174.3" cy="675" rx="4.44" ry="4.44"/><ellipse cx="174.3" cy="675" rx="3.02" ry="3.02"/><ellipse cx="174.3" cy="675" rx="1.61" ry="1.61"/><ellipse cx="174.3" cy="675" rx="1.29" ry="1.29" fill="#fff" stroke="none"/></g>
<path d="M265 677 C265 663 280 660 300 662 C318 663 332 660 341 663 C349 667 349 684 342 689 C330 694 318 693 306 696 C290 698 270 694 265 677 Z" fill="#555" fill-opacity="0.08" stroke="#555" stroke-width="0.7" stroke-opacity="0.45"/>
<path d="M268 677 C268 666 282 663 300 665 C318 666 330 663 338 666 C345 670 345 682 339 686 C328 690 318 690 306 692 C292 694 273 691 268 677 Z" fill="none" stroke="#555" stroke-width="0.7" stroke-opacity="0.45"/>
<g fill="none" stroke="#4a4a4a" stroke-width="0.7" stroke-opacity="0.6"><ellipse cx="284.1" cy="675.5" rx="16" ry="11.5" fill="#4a4a4a" fill-opacity="0.22" stroke="none"/><ellipse cx="284.1" cy="675.5" rx="16" ry="11.5"/><ellipse cx="284.1" cy="675.5" rx="13.99" ry="10.05"/><ellipse cx="284.1" cy="675.5" rx="11.98" ry="8.61"/><ellipse cx="284.1" cy="675.5" rx="9.97" ry="7.16"/><ellipse cx="284.1" cy="675.5" rx="7.95" ry="5.72"/><ellipse cx="284.1" cy="675.5" rx="5.94" ry="4.27"/><ellipse cx="284.1" cy="675.5" rx="3.93" ry="2.83"/><ellipse cx="284.1" cy="675.5" rx="1.92" ry="1.38"/><ellipse cx="284.1" cy="675.5" rx="1.54" ry="1.1" fill="#fff" stroke="none"/></g>
<g fill="none" stroke="#4a4a4a" stroke-width="0.7" stroke-opacity="0.65"><ellipse cx="332.2" cy="674.7" rx="15" ry="11.5" fill="#4a4a4a" fill-opacity="0.25" stroke="none"/><ellipse cx="332.2" cy="674.7" rx="15" ry="11.5"/><ellipse cx="332.2" cy="674.7" rx="13.16" ry="10.09"/><ellipse cx="332.2" cy="674.7" rx="11.31" ry="8.67"/><ellipse cx="332.2" cy="674.7" rx="9.47" ry="7.26"/><ellipse cx="332.2" cy="674.7" rx="7.63" ry="5.85"/><ellipse cx="332.2" cy="674.7" rx="5.79" ry="4.44"/><ellipse cx="332.2" cy="674.7" rx="3.94" ry="3.02"/><ellipse cx="332.2" cy="674.7" rx="2.1" ry="1.61"/><ellipse cx="332.2" cy="674.7" rx="1.68" ry="1.29" fill="#fff" stroke="none"/></g>
<g fill="none" stroke="#4a4a4a" stroke-width="0.7" stroke-opacity="0.5"><ellipse cx="142.5" cy="833" rx="19" ry="14" fill="#fff" stroke="none"/><ellipse cx="142.5" cy="833" rx="19" ry="14" fill="#4a4a4a" fill-opacity="0.2" stroke="none"/><ellipse cx="142.5" cy="833" rx="19" ry="14"/><ellipse cx="142.5" cy="833" rx="16.86" ry="12.42"/><ellipse cx="142.5" cy="833" rx="14.72" ry="10.85"/><ellipse cx="142.5" cy="833" rx="12.59" ry="9.28"/><ellipse cx="142.5" cy="833" rx="10.45" ry="7.7"/><ellipse cx="142.5" cy="833" rx="8.31" ry="6.12"/><ellipse cx="142.5" cy="833" rx="6.17" ry="4.55"/><ellipse cx="142.5" cy="833" rx="4.04" ry="2.98"/><ellipse cx="142.5" cy="833" rx="1.9" ry="1.4"/><ellipse cx="142.5" cy="833" rx="1.52" ry="1.12" fill="#fff" stroke="none"/></g>
<g transform="rotate(28 174.6 838.4)" fill="none" stroke="#4a4a4a" stroke-width="0.7" stroke-opacity="0.75"><ellipse cx="174.6" cy="838.4" rx="8" ry="14" fill="#fff" stroke="none"/><ellipse cx="174.6" cy="838.4" rx="8" ry="14" fill="#4a4a4a" fill-opacity="0.3" stroke="none"/><ellipse cx="174.6" cy="838.4" rx="8" ry="14"/><ellipse cx="174.6" cy="838.4" rx="7.03" ry="12.3"/><ellipse cx="174.6" cy="838.4" rx="6.06" ry="10.6"/><ellipse cx="174.6" cy="838.4" rx="5.09" ry="8.9"/><ellipse cx="174.6" cy="838.4" rx="4.11" ry="7.2"/><ellipse cx="174.6" cy="838.4" rx="3.14" ry="5.5"/><ellipse cx="174.6" cy="838.4" rx="2.17" ry="3.8"/><ellipse cx="174.6" cy="838.4" rx="1.2" ry="2.1"/><ellipse cx="174.6" cy="838.4" rx="0.96" ry="1.68" fill="#fff" stroke="none"/></g>
<g fill="none" stroke="#4a4a4a" stroke-width="0.7" stroke-opacity="0.5"><ellipse cx="293" cy="831" rx="21" ry="16" fill="#fff" stroke="none"/><ellipse cx="293" cy="831" rx="21" ry="16" fill="#4a4a4a" fill-opacity="0.2" stroke="none"/><ellipse cx="293" cy="831" rx="21" ry="16"/><ellipse cx="293" cy="831" rx="18.85" ry="14.36"/><ellipse cx="293" cy="831" rx="16.71" ry="12.73"/><ellipse cx="293" cy="831" rx="14.56" ry="11.09"/><ellipse cx="293" cy="831" rx="12.41" ry="9.46"/><ellipse cx="293" cy="831" rx="10.27" ry="7.82"/><ellipse cx="293" cy="831" rx="8.12" ry="6.19"/><ellipse cx="293" cy="831" rx="5.97" ry="4.55"/><ellipse cx="293" cy="831" rx="3.83" ry="2.92"/><ellipse cx="293" cy="831" rx="1.68" ry="1.28"/><ellipse cx="293" cy="831" rx="1.34" ry="1.02" fill="#fff" stroke="none"/></g>
<g fill="none" stroke="#4a4a4a" stroke-width="0.7" stroke-opacity="0.4"><ellipse cx="327.6" cy="838.4" rx="6" ry="7" fill="#4a4a4a" fill-opacity="0" stroke="none"/><ellipse cx="327.6" cy="838.4" rx="6" ry="7"/><ellipse cx="327.6" cy="838.4" rx="4.5" ry="5.25"/><ellipse cx="327.6" cy="838.4" rx="3" ry="3.5"/><ellipse cx="327.6" cy="838.4" rx="2.4" ry="2.8" fill="#fff" stroke="none"/></g>
</g>
<rect x="94.5" y="642.3" width="67.5" height="64.2" fill="none" stroke="#454545" stroke-width="1.2" />
<rect x="164.4" y="642.3" width="31.3" height="64.2" fill="none" stroke="#454545" stroke-width="1.2" />
<rect x="246.5" y="642.3" width="67.2" height="64.2" fill="none" stroke="#454545" stroke-width="1.2" />
<rect x="316.1" y="642.3" width="31.4" height="64.2" fill="none" stroke="#454545" stroke-width="1.2" />
<rect x="93.2" y="794.2" width="67.9" height="65.1" fill="none" stroke="#454545" stroke-width="1.2" />
<rect x="163.3" y="794.2" width="28.7" height="65.1" fill="none" stroke="#454545" stroke-width="1.2" />
<rect x="247.1" y="794.2" width="67.5" height="65.1" fill="none" stroke="#454545" stroke-width="1.2" />
<rect x="317.4" y="794.2" width="28.3" height="65.1" fill="none" stroke="#454545" stroke-width="1.2" />
<text transform="translate(104.76 643.1)" font-size="20.92" font-family="Liberation Sans, sans-serif" fill="#000" stroke="#000" stroke-width="0.1">54.7</text>
<text transform="translate(160.03 643.1)" font-size="20.8" font-family="Liberation Sans, sans-serif" fill="#000" stroke="#000" stroke-width="0.1">42.6</text>
<text transform="translate(256.77 643.1)" font-size="20.67" font-family="Liberation Sans, sans-serif" fill="#000" stroke="#000" stroke-width="0.1">55.3</text>
<text transform="translate(311.73 643.1)" font-size="20.72" font-family="Liberation Sans, sans-serif" fill="#000" stroke="#000" stroke-width="0.1">41.5</text>
<text transform="translate(103.88 794.9)" font-size="20.56" font-family="Liberation Sans, sans-serif" fill="#000" stroke="#000" stroke-width="0.1">52.8</text>
<text transform="translate(157.83 794.9)" font-size="20.69" font-family="Liberation Sans, sans-serif" fill="#000" stroke="#000" stroke-width="0.1">46.6</text>
<text transform="translate(257.82 794.9)" font-size="20.59" font-family="Liberation Sans, sans-serif" fill="#000" stroke="#000" stroke-width="0.1">91.8</text>
<text transform="translate(311.35 794.9)" font-size="21" font-family="Liberation Sans, sans-serif" fill="#000" stroke="#000" stroke-width="0.1">7.88</text>
<text transform="translate(-2.06 519.05) scale(1.0593 1)" font-size="41.5" font-family="Liberation Sans, sans-serif" font-weight="bold" fill="#000" stroke="#000" stroke-width="0.62">b</text>
<text transform="translate(103.96 547.3)" font-size="23.89" font-family="Liberation Sans, sans-serif" fill="#ff40ff" stroke="#ff40ff" stroke-width="0.42">Treg after low-dose TAM</text>
<path d="M47 556.75L409.25 556.75" stroke="#ff40ff" stroke-width="1.9" fill="none" />
<text transform="translate(129.66 583.3)" font-size="24.13" font-family="Liberation Sans, sans-serif" fill="#0000ff" stroke="#0000ff" stroke-width="0.42">Spleen</text>
<text transform="translate(260.96 583.3)" font-size="24.76" font-family="Liberation Sans, sans-serif" fill="#0000ff" stroke="#0000ff" stroke-width="0.43">Liver</text>
<path d="M57 592L57 693.75" stroke="#0000ff" stroke-width="1.9" fill="none" />
<path d="M57 789.5L57 878.25" stroke="#0000ff" stroke-width="1.9" fill="none" />
<text transform="translate(65.8 764.71) rotate(-90)" font-size="26.74" font-family="Liberation Sans, sans-serif" fill="#0000ff" stroke="#0000ff" stroke-width="0.47">FS</text>
<path d="M87 910.25L198 910.25" stroke="#00f900" stroke-width="1.9" fill="none" />
<path d="M282 910.25L388.25 910.25" stroke="#00f900" stroke-width="1.9" fill="none" />
<text transform="translate(207.63 920.8)" font-size="27.4" font-family="Liberation Sans, sans-serif" fill="#00f900" stroke="#00f900" stroke-width="0.48">GFP</text>
<text transform="translate(380.49 681.2)" font-size="27.28" font-family="Liberation Sans, sans-serif" font-style="italic" fill="#0000ff" stroke="#0000ff" stroke-width="0.27">+/ΔR</text>
<text transform="translate(380.24 831.9)" font-size="25.5" font-family="Liberation Sans, sans-serif" fill="#0000ff" stroke="#0000ff" stroke-width="0.45">rKO1</text>
<path d="M608.4 894.2V791.4H626.1V894.2" fill="#fff" stroke="#000" stroke-width="2.6"/>
<path d="M639.9 894.2V794.4H657.85V894.2" fill="#fff" stroke="#000" stroke-width="2.6"/>
<path d="M693.4 894.2V833.4H711.6V894.2" fill="#f60000" stroke="#000" stroke-width="2.6"/>
<path d="M725.4 894.2V696.65H743.6V894.2" fill="#f60000" stroke="#000" stroke-width="2.6"/>
<path d="M595.75 651.4L595.75 895.3" stroke="#000" stroke-width="2.9" fill="none" />
<path d="M585 894.2L756.25 894.2" stroke="#000" stroke-width="2.3" fill="none" />
<path d="M585 652.5L595.75 652.5" stroke="#000" stroke-width="2.3" fill="none" />
<text transform="translate(536.02 660.7)" font-size="23.73" font-family="Liberation Sans, sans-serif" fill="#000" stroke="#000" stroke-width="0.42">100</text>
<path d="M585 692.75L595.75 692.75" stroke="#000" stroke-width="2.3" fill="none" />
<text transform="translate(548.33 700.95)" font-size="24.59" font-family="Liberation Sans, sans-serif" fill="#000" stroke="#000" stroke-width="0.43">90</text>
<path d="M585 733.1L595.75 733.1" stroke="#000" stroke-width="2.3" fill="none" />
<text transform="translate(548.46 741.3)" font-size="24.47" font-family="Liberation Sans, sans-serif" fill="#000" stroke="#000" stroke-width="0.43">80</text>
<path d="M585 773.4L595.75 773.4" stroke="#000" stroke-width="2.3" fill="none" />
<text transform="translate(548.27 781.6)" font-size="24.65" font-family="Liberation Sans, sans-serif" fill="#000" stroke="#000" stroke-width="0.43">70</text>
<path d="M585 813.7L595.75 813.7" stroke="#000" stroke-width="2.3" fill="none" />
<text transform="translate(548.27 821.9)" font-size="24.65" font-family="Liberation Sans, sans-serif" fill="#000" stroke="#000" stroke-width="0.43">60</text>
<path d="M585 854L595.75 854" stroke="#000" stroke-width="2.3" fill="none" />
<text transform="translate(548.52 862.2)" font-size="24.41" font-family="Liberation Sans, sans-serif" fill="#000" stroke="#000" stroke-width="0.43">50</text>
<path d="M585 894.2L595.75 894.2" stroke="#000" stroke-width="2.3" fill="none" />
<text transform="translate(548.96 902.4)" font-size="24" font-family="Liberation Sans, sans-serif" fill="#000" stroke="#000" stroke-width="0.42">40</text>
<path d="M617.09 747.87V831.67M611.39 747.87H622.79M611.39 831.67H622.79" stroke="#0000ff" stroke-width="1.4" fill="none"/>
<path d="M648.86 756.88V829.66M643.16 756.88H654.56M643.16 829.66H654.56" stroke="#0000ff" stroke-width="1.4" fill="none"/>
<path d="M702.39 804.9V859.43M696.69 804.9H708.09M696.69 859.43H708.09" stroke="#0000ff" stroke-width="1.4" fill="none"/>
<path d="M734.4 680.59V709.6M728.7 680.59H740.1M728.7 709.6H740.1" stroke="#0000ff" stroke-width="1.4" fill="none"/>
<path d="M613.49 762.38a3.6 3.6 0 1 0 7.2 0a3.6 3.6 0 1 0 -7.2 0M613.49 769.63a3.6 3.6 0 1 0 7.2 0a3.6 3.6 0 1 0 -7.2 0M613.49 838.17a3.6 3.6 0 1 0 7.2 0a3.6 3.6 0 1 0 -7.2 0M645.26 762.88a3.6 3.6 0 1 0 7.2 0a3.6 3.6 0 1 0 -7.2 0M645.26 783.89a3.6 3.6 0 1 0 7.2 0a3.6 3.6 0 1 0 -7.2 0M645.26 833.67a3.6 3.6 0 1 0 7.2 0a3.6 3.6 0 1 0 -7.2 0M698.79 792.15a3.6 3.6 0 1 0 7.2 0a3.6 3.6 0 1 0 -7.2 0M692.03 838.92a3.6 3.6 0 1 0 7.2 0a3.6 3.6 0 1 0 -7.2 0M705.54 844.42a3.6 3.6 0 1 0 7.2 0a3.6 3.6 0 1 0 -7.2 0M698.79 853.93a3.6 3.6 0 1 0 7.2 0a3.6 3.6 0 1 0 -7.2 0M723.8 684.34a3.6 3.6 0 1 0 7.2 0a3.6 3.6 0 1 0 -7.2 0M737.8 683.34a3.6 3.6 0 1 0 7.2 0a3.6 3.6 0 1 0 -7.2 0M730.8 700.35a3.6 3.6 0 1 0 7.2 0a3.6 3.6 0 1 0 -7.2 0M730.8 713.36a3.6 3.6 0 1 0 7.2 0a3.6 3.6 0 1 0 -7.2 0" fill="#0000ff"/>
<path d="M686.25 664.25L744.5 664.25" stroke="#000" stroke-width="2.3" fill="none" />
<text transform="translate(683.73 652.05)" font-size="19.36" font-family="Liberation Sans, sans-serif" fill="#000" stroke="#000" stroke-width="0.34">0.0001</text>
<text transform="translate(696.1 630.3)" font-size="22.66" font-family="Liberation Sans, sans-serif" fill="#000" stroke="#000" stroke-width="0.4"><tspan font-style="italic">n</tspan> = 4</text>
<text transform="translate(617.85 722.3)" font-size="22.82" font-family="Liberation Sans, sans-serif" fill="#000" stroke="#000" stroke-width="0.4"><tspan font-style="italic">n</tspan> = 3</text>
<text transform="translate(586.3 554.05)" font-size="29.07" font-family="Liberation Sans, sans-serif" fill="#0433ff" stroke="#0433ff" stroke-width="0.51">GFP</text>
<text transform="translate(647 544.3)" font-size="23.42" font-family="Liberation Sans, sans-serif" fill="#0433ff" stroke="#0433ff" stroke-width="0.41">–</text>
<text transform="translate(667.81 554.05)" font-size="30.53" font-family="Liberation Sans, sans-serif" fill="#0433ff" stroke="#0433ff" stroke-width="0.53">Treg</text>
<text transform="translate(591.55 590.8)" font-size="30" font-family="Liberation Sans, sans-serif" fill="#0433ff" stroke="#0433ff" stroke-width="0.53">frequency</text>
<text transform="translate(513.3 855.99) rotate(-90)" font-size="28.25" font-family="Liberation Sans, sans-serif" fill="#000" stroke="#000" stroke-width="0.49">% Total Treg</text>
<text transform="translate(609.77 921.55)" font-size="22.4" font-family="Liberation Sans, sans-serif" fill="#0433ff" stroke="#0433ff" stroke-width="0.39">S</text>
<text transform="translate(638.97 921.55)" font-size="22.4" font-family="Liberation Sans, sans-serif" fill="#0433ff" stroke="#0433ff" stroke-width="0.39">L</text>
<text transform="translate(684.9 921.55)" font-size="22.4" font-family="Liberation Sans, sans-serif" fill="#0433ff" stroke="#0433ff" stroke-width="0.39">S</text>
<text transform="translate(720.35 921.55)" font-size="22.4" font-family="Liberation Sans, sans-serif" fill="#0433ff" stroke="#0433ff" stroke-width="0.39">L</text>
<path d="M592.75 929.5L662.25 929.5" stroke="#0433ff" stroke-width="1.9" fill="none" />
<path d="M677.5 929.5L757.25 929.5" stroke="#0433ff" stroke-width="1.9" fill="none" />
<text transform="translate(602.9 957.8)" font-size="23.17" font-family="Liberation Sans, sans-serif" fill="#0433ff" stroke="#0433ff" stroke-width="0.41">+/ΔR</text>
<text transform="translate(684.23 957.8)" font-size="23.31" font-family="Liberation Sans, sans-serif" fill="#0433ff" stroke="#0433ff" stroke-width="0.41">rKO1</text>
<path d="M947.65 894.2V769.1H970.85V894.2" fill="#fff" stroke="#000" stroke-width="2.6"/>
<path d="M987.65 894.2V726.3H1010.5V894.2" fill="#fff" stroke="#000" stroke-width="2.6"/>
<path d="M1027.3 894.2V855.4H1050.4V894.2" fill="#fff" stroke="#000" stroke-width="2.6"/>
<path d="M1066.8 894.2V811.1H1089.9V894.2" fill="#fff" stroke="#000" stroke-width="2.6"/>
<path d="M1106.5 894.2V857.9H1129.6V894.2" fill="#fff" stroke="#000" stroke-width="2.6"/>
<path d="M1146 894.2V846.5H1169.1V894.2" fill="#f60000" stroke="#000" stroke-width="2.6"/>
<path d="M1185.9 894.2V769.1H1208.7V894.2" fill="#f60000" stroke="#000" stroke-width="2.6"/>
<path d="M1239.3 894.2V872.4H1262.4V894.2" fill="#fff" stroke="#000" stroke-width="2.6"/>
<path d="M1278.9 894.2V862.9H1301.9V894.2" fill="#fff" stroke="#000" stroke-width="2.6"/>
<path d="M1318.5 894.2V888.9H1341.6V894.2" fill="#fff" stroke="#000" stroke-width="2.6"/>
<path d="M1358.3 894.2V876.7H1381.2V894.2" fill="#fff" stroke="#000" stroke-width="2.6"/>
<path d="M1397.9 894.2V885.1H1421.1V894.2" fill="#fff" stroke="#000" stroke-width="2.6"/>
<path d="M1437.8 894.2V768.7H1460.9V894.2" fill="#f60000" stroke="#000" stroke-width="2.6"/>
<path d="M1477.5 894.2V770.1H1500.7V894.2" fill="#f60000" stroke="#000" stroke-width="2.6"/>
<path d="M932.8 601.2L932.8 895.4" stroke="#000" stroke-width="2.6" fill="none" />
<path d="M921.25 894.2L1532.5 894.2" stroke="#000" stroke-width="2.4" fill="none" />
<path d="M1516.6 601.4L1516.6 895.4" stroke="#000" stroke-width="2.6" fill="none" />
<path d="M921.25 602.2L933 602.2" stroke="#000" stroke-width="2.4" fill="none" />
<text transform="translate(899.21 609.8)" font-size="21.6" font-family="Liberation Sans, sans-serif" fill="#000" stroke="#000" stroke-width="0.38">4</text>
<path d="M921.25 675.6L933 675.6" stroke="#000" stroke-width="2.4" fill="none" />
<text transform="translate(899.53 683.2)" font-size="21.6" font-family="Liberation Sans, sans-serif" fill="#000" stroke="#000" stroke-width="0.38">3</text>
<path d="M921.25 748.8L933 748.8" stroke="#000" stroke-width="2.4" fill="none" />
<text transform="translate(899.69 756.4)" font-size="21.6" font-family="Liberation Sans, sans-serif" fill="#000" stroke="#000" stroke-width="0.38">2</text>
<path d="M921.25 821.7L933 821.7" stroke="#000" stroke-width="2.4" fill="none" />
<text transform="translate(899.64 829.3)" font-size="21.6" font-family="Liberation Sans, sans-serif" fill="#000" stroke="#000" stroke-width="0.38">1</text>
<path d="M921.25 894.2L933 894.2" stroke="#000" stroke-width="2.4" fill="none" />
<text transform="translate(899.42 901.8)" font-size="21.6" font-family="Liberation Sans, sans-serif" fill="#000" stroke="#000" stroke-width="0.38">0</text>
<path d="M1516.6 621.25L1532.5 621.25" stroke="#000" stroke-width="2.4" fill="none" />
<text transform="translate(1542.31 629.35)" font-size="22.16" font-family="Liberation Sans, sans-serif" fill="#000" stroke="#000" stroke-width="0.39">0.14</text>
<path d="M1516.6 660.25L1532.5 660.25" stroke="#000" stroke-width="2.4" fill="none" />
<text transform="translate(1542.3 668.35)" font-size="22.43" font-family="Liberation Sans, sans-serif" fill="#000" stroke="#000" stroke-width="0.39">0.12</text>
<path d="M1516.6 699.25L1532.5 699.25" stroke="#000" stroke-width="2.4" fill="none" />
<text transform="translate(1542.31 707.35)" font-size="22.28" font-family="Liberation Sans, sans-serif" fill="#000" stroke="#000" stroke-width="0.39">0.10</text>
<path d="M1516.6 738.25L1532.5 738.25" stroke="#000" stroke-width="2.4" fill="none" />
<text transform="translate(1542.31 746.35)" font-size="22.34" font-family="Liberation Sans, sans-serif" fill="#000" stroke="#000" stroke-width="0.39">0.08</text>
<path d="M1516.6 777.25L1532.5 777.25" stroke="#000" stroke-width="2.4" fill="none" />
<text transform="translate(1542.31 785.35)" font-size="22.34" font-family="Liberation Sans, sans-serif" fill="#000" stroke="#000" stroke-width="0.39">0.06</text>
<path d="M1516.6 816.25L1532.5 816.25" stroke="#000" stroke-width="2.4" fill="none" />
<text transform="translate(1542.31 824.35)" font-size="22.16" font-family="Liberation Sans, sans-serif" fill="#000" stroke="#000" stroke-width="0.39">0.04</text>
<path d="M1516.6 855.25L1532.5 855.25" stroke="#000" stroke-width="2.4" fill="none" />
<text transform="translate(1542.3 863.35)" font-size="22.43" font-family="Liberation Sans, sans-serif" fill="#000" stroke="#000" stroke-width="0.39">0.02</text>
<path d="M1516.6 894.25L1532.5 894.25" stroke="#000" stroke-width="2.4" fill="none" />
<text transform="translate(1542.31 902.35)" font-size="22.28" font-family="Liberation Sans, sans-serif" fill="#000" stroke="#000" stroke-width="0.39">0.00</text>
<path d="M1231 571L1231 1016.5" stroke="#000" stroke-width="3.6" fill="none" stroke-dasharray="9.9 3.6"/>
<path d="M1290.75 790L1290.75 628.4L1490 628.4L1490 672" stroke="#000" stroke-width="2.3" fill="none" />
<path d="M1410.4 848L1410.4 661.6L1445.5 661.6" stroke="#000" stroke-width="2.3" fill="none" />
<text transform="translate(1369.57 622.8)" font-size="23.15" font-family="Liberation Sans, sans-serif" fill="#000" stroke="#000" stroke-width="0.41">0.01</text>
<text transform="translate(1402.8 656.55)" font-size="23.76" font-family="Liberation Sans, sans-serif" fill="#000" stroke="#000" stroke-width="0.42">0.03</text>
<path d="M959.31 743.02V792.05M952.16 743.02H966.46M952.16 792.05H966.46" stroke="#0000ff" stroke-width="1.5" fill="none"/>
<path d="M999.08 674.6V775.04M991.93 674.6H1006.23M991.93 775.04H1006.23" stroke="#0000ff" stroke-width="1.5" fill="none"/>
<path d="M1038.85 845.07V862.58M1031.7 845.07H1046M1031.7 862.58H1046" stroke="#0000ff" stroke-width="1.5" fill="none"/>
<path d="M1078.37 786.54V833.07M1071.22 786.54H1085.52M1071.22 833.07H1085.52" stroke="#0000ff" stroke-width="1.5" fill="none"/>
<path d="M1118.14 842.32V870.34M1110.99 842.32H1125.29M1110.99 870.34H1125.29" stroke="#0000ff" stroke-width="1.5" fill="none"/>
<path d="M1157.66 829.56V860.58M1150.51 829.56H1164.81M1150.51 860.58H1164.81" stroke="#0000ff" stroke-width="1.5" fill="none"/>
<path d="M1197.43 711.01V823.56M1190.28 711.01H1204.58M1190.28 823.56H1204.58" stroke="#0000ff" stroke-width="1.5" fill="none"/>
<path d="M1250.78 861.83V879.09M1243.63 861.83H1257.93M1243.63 879.09H1257.93" stroke="#0000ff" stroke-width="1.5" fill="none"/>
<path d="M1290.55 856.33V865.83M1283.4 856.33H1297.7M1283.4 865.83H1297.7" stroke="#0000ff" stroke-width="1.5" fill="none"/>
<path d="M1330.07 884.59V887.09M1322.92 884.59H1337.22M1322.92 887.09H1337.22" stroke="#0000ff" stroke-width="1.5" fill="none"/>
<path d="M1369.83 865.83V883.34M1362.68 865.83H1376.98M1362.68 883.34H1376.98" stroke="#0000ff" stroke-width="1.5" fill="none"/>
<path d="M1409.6 875.84V890.1M1402.45 875.84H1416.75M1402.45 890.1H1416.75" stroke="#0000ff" stroke-width="1.5" fill="none"/>
<path d="M1449.37 685.36V847.57M1442.22 685.36H1456.52M1442.22 847.57H1456.52" stroke="#0000ff" stroke-width="1.5" fill="none"/>
<path d="M1489.14 728.01V808.3M1481.99 728.01H1496.29M1481.99 808.3H1496.29" stroke="#0000ff" stroke-width="1.5" fill="none"/>
<path d="M954.91 737.02a4.4 4.4 0 1 0 8.8 0a4.4 4.4 0 1 0 -8.8 0M946.41 768.03a4.4 4.4 0 1 0 8.8 0a4.4 4.4 0 1 0 -8.8 0M964.16 768.28a4.4 4.4 0 1 0 8.8 0a4.4 4.4 0 1 0 -8.8 0M954.91 796.3a4.4 4.4 0 1 0 8.8 0a4.4 4.4 0 1 0 -8.8 0M994.68 709.5a4.4 4.4 0 1 0 8.8 0a4.4 4.4 0 1 0 -8.8 0M994.68 781.29a4.4 4.4 0 1 0 8.8 0a4.4 4.4 0 1 0 -8.8 0M1025.7 845.07a4.4 4.4 0 1 0 8.8 0a4.4 4.4 0 1 0 -8.8 0M1043.2 853.08a4.4 4.4 0 1 0 8.8 0a4.4 4.4 0 1 0 -8.8 0M1034.45 863.08a4.4 4.4 0 1 0 8.8 0a4.4 4.4 0 1 0 -8.8 0M1073.97 789.29a4.4 4.4 0 1 0 8.8 0a4.4 4.4 0 1 0 -8.8 0M1073.97 804.8a4.4 4.4 0 1 0 8.8 0a4.4 4.4 0 1 0 -8.8 0M1073.97 835.82a4.4 4.4 0 1 0 8.8 0a4.4 4.4 0 1 0 -8.8 0M1113.74 837.32a4.4 4.4 0 1 0 8.8 0a4.4 4.4 0 1 0 -8.8 0M1104.98 856.83a4.4 4.4 0 1 0 8.8 0a4.4 4.4 0 1 0 -8.8 0M1122.49 859.83a4.4 4.4 0 1 0 8.8 0a4.4 4.4 0 1 0 -8.8 0M1113.74 871.09a4.4 4.4 0 1 0 8.8 0a4.4 4.4 0 1 0 -8.8 0M1153.26 821.81a4.4 4.4 0 1 0 8.8 0a4.4 4.4 0 1 0 -8.8 0M1153.26 848.32a4.4 4.4 0 1 0 8.8 0a4.4 4.4 0 1 0 -8.8 0M1144.75 856.58a4.4 4.4 0 1 0 8.8 0a4.4 4.4 0 1 0 -8.8 0M1162.51 853.08a4.4 4.4 0 1 0 8.8 0a4.4 4.4 0 1 0 -8.8 0M1184.52 783.04a4.4 4.4 0 1 0 8.8 0a4.4 4.4 0 1 0 -8.8 0M1202.03 788.04a4.4 4.4 0 1 0 8.8 0a4.4 4.4 0 1 0 -8.8 0M1193.03 813.31a4.4 4.4 0 1 0 8.8 0a4.4 4.4 0 1 0 -8.8 0M1246.38 857.58a4.4 4.4 0 1 0 8.8 0a4.4 4.4 0 1 0 -8.8 0M1237.62 877.59a4.4 4.4 0 1 0 8.8 0a4.4 4.4 0 1 0 -8.8 0M1246.38 873.34a4.4 4.4 0 1 0 8.8 0a4.4 4.4 0 1 0 -8.8 0M1255.63 873.34a4.4 4.4 0 1 0 8.8 0a4.4 4.4 0 1 0 -8.8 0M1277.39 855.58a4.4 4.4 0 1 0 8.8 0a4.4 4.4 0 1 0 -8.8 0M1277.39 865.58a4.4 4.4 0 1 0 8.8 0a4.4 4.4 0 1 0 -8.8 0M1295.15 862.08a4.4 4.4 0 1 0 8.8 0a4.4 4.4 0 1 0 -8.8 0M1316.66 886.59a4.4 4.4 0 1 0 8.8 0a4.4 4.4 0 1 0 -8.8 0M1325.67 885.09a4.4 4.4 0 1 0 8.8 0a4.4 4.4 0 1 0 -8.8 0M1334.67 885.59a4.4 4.4 0 1 0 8.8 0a4.4 4.4 0 1 0 -8.8 0M1365.43 865.08a4.4 4.4 0 1 0 8.8 0a4.4 4.4 0 1 0 -8.8 0M1356.68 883.84a4.4 4.4 0 1 0 8.8 0a4.4 4.4 0 1 0 -8.8 0M1374.44 875.84a4.4 4.4 0 1 0 8.8 0a4.4 4.4 0 1 0 -8.8 0M1414.46 873.84a4.4 4.4 0 1 0 8.8 0a4.4 4.4 0 1 0 -8.8 0M1405.2 879.59a4.4 4.4 0 1 0 8.8 0a4.4 4.4 0 1 0 -8.8 0M1396.2 889.34a4.4 4.4 0 1 0 8.8 0a4.4 4.4 0 1 0 -8.8 0M1414.46 888.09a4.4 4.4 0 1 0 8.8 0a4.4 4.4 0 1 0 -8.8 0M1444.97 730.52a4.4 4.4 0 1 0 8.8 0a4.4 4.4 0 1 0 -8.8 0M1444.97 815.06a4.4 4.4 0 1 0 8.8 0a4.4 4.4 0 1 0 -8.8 0M1444.97 850.33a4.4 4.4 0 1 0 8.8 0a4.4 4.4 0 1 0 -8.8 0M1484.74 727.01a4.4 4.4 0 1 0 8.8 0a4.4 4.4 0 1 0 -8.8 0M1484.74 746.77a4.4 4.4 0 1 0 8.8 0a4.4 4.4 0 1 0 -8.8 0M1484.74 780.04a4.4 4.4 0 1 0 8.8 0a4.4 4.4 0 1 0 -8.8 0M1484.74 818.56a4.4 4.4 0 1 0 8.8 0a4.4 4.4 0 1 0 -8.8 0M994.68 683.86a4.4 4.4 0 1 0 8.8 0a4.4 4.4 0 1 0 -8.8 0M994.68 709.62a4.4 4.4 0 1 0 8.8 0a4.4 4.4 0 1 0 -8.8 0M1193.03 685.11a4.4 4.4 0 1 0 8.8 0a4.4 4.4 0 1 0 -8.8 0M1444.93 671.6a4.4 4.4 0 1 0 8.8 0a4.4 4.4 0 1 0 -8.8 0" fill="#0000ff"/>
<text transform="translate(952.43 919.7)" font-size="23.4" font-family="Liberation Sans, sans-serif" fill="#000" stroke="#000" stroke-width="0.41">1</text>
<text transform="translate(992.51 919.7)" font-size="23.4" font-family="Liberation Sans, sans-serif" fill="#000" stroke="#000" stroke-width="0.41">2</text>
<text transform="translate(1032.37 919.7)" font-size="23.4" font-family="Liberation Sans, sans-serif" fill="#000" stroke="#000" stroke-width="0.41">3</text>
<text transform="translate(1071.87 919.7)" font-size="23.4" font-family="Liberation Sans, sans-serif" fill="#000" stroke="#000" stroke-width="0.41">4</text>
<text transform="translate(1111.51 919.7)" font-size="23.4" font-family="Liberation Sans, sans-serif" fill="#000" stroke="#000" stroke-width="0.41">5</text>
<text transform="translate(1150.92 919.7)" font-size="23.4" font-family="Liberation Sans, sans-serif" fill="#ff0000" stroke="#ff0000" stroke-width="0.41">6</text>
<text transform="translate(1190.81 919.7)" font-size="23.4" font-family="Liberation Sans, sans-serif" fill="#ff0000" stroke="#ff0000" stroke-width="0.41">7</text>
<text transform="translate(1244.31 919.7)" font-size="23.4" font-family="Liberation Sans, sans-serif" fill="#000" stroke="#000" stroke-width="0.41">8</text>
<text transform="translate(1283.88 919.7)" font-size="23.4" font-family="Liberation Sans, sans-serif" fill="#000" stroke="#000" stroke-width="0.41">9</text>
<text transform="translate(1316.57 919.7)" font-size="23.4" font-family="Liberation Sans, sans-serif" fill="#000" stroke="#000" stroke-width="0.41">10</text>
<text transform="translate(1357.24 919.7)" font-size="23.4" font-family="Liberation Sans, sans-serif" fill="#000" stroke="#000" stroke-width="0.41">11</text>
<text transform="translate(1396.22 919.7)" font-size="23.4" font-family="Liberation Sans, sans-serif" fill="#000" stroke="#000" stroke-width="0.41">12</text>
<text transform="translate(1435.93 919.7)" font-size="23.4" font-family="Liberation Sans, sans-serif" fill="#ff0000" stroke="#ff0000" stroke-width="0.41">13</text>
<text transform="translate(1475.56 919.7)" font-size="23.4" font-family="Liberation Sans, sans-serif" fill="#ff0000" stroke="#ff0000" stroke-width="0.41">14</text>
<text transform="translate(939.9 956.05)" font-size="19.31" font-family="Liberation Sans, sans-serif" fill="#000" stroke="#000" stroke-width="0.34">WT</text>
<text transform="translate(975.91 956.05)" font-size="20.57" font-family="Liberation Sans, sans-serif" fill="#000" stroke="#000" stroke-width="0.36">rKO</text>
<text transform="translate(1236.3 956.05)" font-size="19.05" font-family="Liberation Sans, sans-serif" fill="#000" stroke="#000" stroke-width="0.33">WT</text>
<text transform="translate(1271.31 956.05)" font-size="20.57" font-family="Liberation Sans, sans-serif" fill="#000" stroke="#000" stroke-width="0.36">rKO</text>
<text transform="translate(1027.73 942.8)" font-size="20.4" font-family="Liberation Sans, sans-serif" fill="#00f900" stroke="#00f900" stroke-width="0.36">G+</text>
<text transform="translate(1104.48 942.8)" font-size="20.4" font-family="Liberation Sans, sans-serif" fill="#00f900" stroke="#00f900" stroke-width="0.36">G+</text>
<text transform="translate(1323.21 942.8)" font-size="20.79" font-family="Liberation Sans, sans-serif" fill="#00f900" stroke="#00f900" stroke-width="0.36">G+</text>
<text transform="translate(1400.21 942.8)" font-size="20.79" font-family="Liberation Sans, sans-serif" fill="#00f900" stroke="#00f900" stroke-width="0.36">G+</text>
<text transform="translate(1065.96 942.8)" font-size="20.86" font-family="Liberation Sans, sans-serif" fill="#00f900" stroke="#00f900" stroke-width="0.37">G–</text>
<text transform="translate(1143.23 942.8)" font-size="20.47" font-family="Liberation Sans, sans-serif" fill="#00f900" stroke="#00f900" stroke-width="0.36">G–</text>
<text transform="translate(1361.98 942.8)" font-size="20.47" font-family="Liberation Sans, sans-serif" fill="#00f900" stroke="#00f900" stroke-width="0.36">G–</text>
<text transform="translate(1438.98 942.8)" font-size="20.47" font-family="Liberation Sans, sans-serif" fill="#00f900" stroke="#00f900" stroke-width="0.36">G–</text>
<path d="M1028 949L1093.25 949" stroke="#000" stroke-width="1.9" fill="none" />
<path d="M1105 949L1165.75 949" stroke="#000" stroke-width="1.9" fill="none" />
<path d="M1322.5 949L1387.5 949" stroke="#000" stroke-width="1.9" fill="none" />
<path d="M1399.25 949L1460 949" stroke="#000" stroke-width="1.9" fill="none" />
<text transform="translate(1032.07 974.05)" font-size="19.58" font-family="Liberation Sans, sans-serif" fill="#000" stroke="#000" stroke-width="0.34">+/Δ<tspan font-style="italic"> R</tspan></text>
<text transform="translate(1122.41 974.05)" font-size="20.57" font-family="Liberation Sans, sans-serif" fill="#000" stroke="#000" stroke-width="0.36">rKO</text>
<text transform="translate(1327.82 971.05)" font-size="19.48" font-family="Liberation Sans, sans-serif" fill="#000" stroke="#000" stroke-width="0.34">+/Δ<tspan font-style="italic"> R</tspan></text>
<text transform="translate(1406.67 971.05)" font-size="20.42" font-family="Liberation Sans, sans-serif" fill="#000" stroke="#000" stroke-width="0.36">rKO</text>
<text transform="translate(1176.65 956.05)" font-size="20.72" font-family="Liberation Sans, sans-serif" fill="#000" stroke="#000" stroke-width="0.36">rKO</text>
<text transform="translate(1471.18 956.05)" font-size="20.27" font-family="Liberation Sans, sans-serif" fill="#000" stroke="#000" stroke-width="0.35">rKO</text>
<path d="M1033 980L1093.25 980" stroke="#000" stroke-width="1.9" fill="none" />
<path d="M1105 980L1166.25 980" stroke="#000" stroke-width="1.9" fill="none" />
<path d="M1178 980L1223.25 980" stroke="#000" stroke-width="1.9" fill="none" />
<path d="M1326.75 980L1387 980" stroke="#000" stroke-width="1.9" fill="none" />
<path d="M1399.25 980L1460 980" stroke="#000" stroke-width="1.9" fill="none" />
<path d="M1472 980L1517.5 980" stroke="#000" stroke-width="1.9" fill="none" />
<text transform="translate(980.04 1006.55)" font-size="20.43" font-family="Liberation Sans, sans-serif" fill="#ff40ff" stroke="#ff40ff" stroke-width="0.36">TAM:</text>
<text transform="translate(1037.05 1006.55)" font-size="20.66" font-family="Liberation Sans, sans-serif" fill="#ff40ff" stroke="#ff40ff" stroke-width="0.36">Low</text>
<text transform="translate(1105.8 1006.55)" font-size="20.66" font-family="Liberation Sans, sans-serif" fill="#ff40ff" stroke="#ff40ff" stroke-width="0.36">Low</text>
<text transform="translate(1176.29 1006.55)" font-size="20.68" font-family="Liberation Sans, sans-serif" fill="#ff40ff" stroke="#ff40ff" stroke-width="0.36">Full</text>
<text transform="translate(1338.84 1006.55)" font-size="20.09" font-family="Liberation Sans, sans-serif" fill="#ff40ff" stroke="#ff40ff" stroke-width="0.35">Low</text>
<text transform="translate(1407.33 1006.55)" font-size="20.23" font-family="Liberation Sans, sans-serif" fill="#ff40ff" stroke="#ff40ff" stroke-width="0.35">Low</text>
<text transform="translate(1477.78 1006.55)" font-size="20.85" font-family="Liberation Sans, sans-serif" fill="#ff40ff" stroke="#ff40ff" stroke-width="0.36">Full</text>
<text transform="translate(853.8 519.05) scale(1.0256 1)" font-size="41.5" font-family="Liberation Sans, sans-serif" font-weight="bold" fill="#000" stroke="#000" stroke-width="0.62">c</text>
<text transform="translate(1145.49 538.3)" font-size="33.58" font-family="Liberation Sans, sans-serif" fill="#0433ff" stroke="#0433ff" stroke-width="0.59">Treg number</text>
<path d="M958 553.75L1523.75 553.75" stroke="#0433ff" stroke-width="1.9" fill="none" />
<text transform="translate(1045.78 595.8)" font-size="27.2" font-family="Liberation Sans, sans-serif" fill="#0433ff" stroke="#0433ff" stroke-width="0.48">Spleen</text>
<text transform="translate(1360.76 595.3)" font-size="27.17" font-family="Liberation Sans, sans-serif" fill="#0433ff" stroke="#0433ff" stroke-width="0.48">Liver</text>
<text transform="translate(1577.6 575.8)" font-size="22.98" font-family="Liberation Sans, sans-serif" fill="#000" stroke="#000" stroke-width="0.4"><tspan font-style="italic">n</tspan> = 3–4</text>
<text transform="translate(877.3 825.61) rotate(-90)" font-size="27.12" font-family="Liberation Sans, sans-serif" fill="#000" stroke="#000" stroke-width="0.47">Treg (million)</text>
<path d="M95.35 1365.6V1234.65H115.45V1365.6" fill="#fff" stroke="#000" stroke-width="2.5"/>
<path d="M130.35 1365.6V1211.15H150.45V1365.6" fill="#fff" stroke="#000" stroke-width="2.5"/>
<path d="M164.85 1365.6V1219.15H184.95V1365.6" fill="#fff" stroke="#000" stroke-width="2.5"/>
<path d="M199.55 1365.6V1249.15H219.45V1365.6" fill="#fff" stroke="#000" stroke-width="2.5"/>
<path d="M234.15 1365.6V1239.65H254.15V1365.6" fill="#fff" stroke="#000" stroke-width="2.5"/>
<path d="M283.35 1365.6V1341.65H302.95V1365.6" fill="#fff" stroke="#000" stroke-width="2.5"/>
<path d="M317.55 1365.6V1194.65H337.35V1365.6" fill="#fff" stroke="#000" stroke-width="2.5"/>
<path d="M352.05 1365.6V1343.35H371.65V1365.6" fill="#fff" stroke="#000" stroke-width="2.5"/>
<path d="M386.45 1365.6V1255.85H406.15V1365.6" fill="#fff" stroke="#000" stroke-width="2.5"/>
<path d="M420.85 1365.6V1296.35H440.45V1365.6" fill="#fff" stroke="#000" stroke-width="2.5"/>
<path d="M83.25 1109.2L83.25 1366.7" stroke="#000" stroke-width="2.3" fill="none" />
<path d="M72 1365.6L268.5 1365.6" stroke="#000" stroke-width="2.3" fill="none" />
<path d="M270 1365.3L466.75 1365.3" stroke="#000" stroke-width="2.3" fill="none" />
<path d="M453.75 1110.2L453.75 1366.4" stroke="#000" stroke-width="2.3" fill="none" />
<path d="M72 1110.25L83.25 1110.25" stroke="#000" stroke-width="2.3" fill="none" />
<text transform="translate(40.38 1117.55)" font-size="19.6" font-family="Liberation Sans, sans-serif" fill="#000" stroke="#000" stroke-width="0.34">30</text>
<path d="M72 1195.6L83.25 1195.6" stroke="#000" stroke-width="2.3" fill="none" />
<text transform="translate(40.38 1202.9)" font-size="19.6" font-family="Liberation Sans, sans-serif" fill="#000" stroke="#000" stroke-width="0.34">20</text>
<path d="M72 1280.5L83.25 1280.5" stroke="#000" stroke-width="2.3" fill="none" />
<text transform="translate(40.38 1287.8)" font-size="19.6" font-family="Liberation Sans, sans-serif" fill="#000" stroke="#000" stroke-width="0.34">10</text>
<path d="M72 1365.4L83.25 1365.4" stroke="#000" stroke-width="2.3" fill="none" />
<text transform="translate(51.26 1372.7)" font-size="19.6" font-family="Liberation Sans, sans-serif" fill="#000" stroke="#000" stroke-width="0.34">0</text>
<path d="M453.75 1111.25L466.75 1111.25" stroke="#000" stroke-width="2.3" fill="none" />
<text transform="translate(476.25 1118.55)" font-size="19.4" font-family="Liberation Sans, sans-serif" fill="#000" stroke="#000" stroke-width="0.34">1.0</text>
<path d="M453.75 1162.1L466.75 1162.1" stroke="#000" stroke-width="2.3" fill="none" />
<text transform="translate(476.92 1169.4)" font-size="19.4" font-family="Liberation Sans, sans-serif" fill="#000" stroke="#000" stroke-width="0.34">0.8</text>
<path d="M453.75 1212.95L466.75 1212.95" stroke="#000" stroke-width="2.3" fill="none" />
<text transform="translate(476.92 1220.25)" font-size="19.4" font-family="Liberation Sans, sans-serif" fill="#000" stroke="#000" stroke-width="0.34">0.6</text>
<path d="M453.75 1263.8L466.75 1263.8" stroke="#000" stroke-width="2.3" fill="none" />
<text transform="translate(476.92 1271.1)" font-size="19.4" font-family="Liberation Sans, sans-serif" fill="#000" stroke="#000" stroke-width="0.34">0.4</text>
<path d="M453.75 1314.65L466.75 1314.65" stroke="#000" stroke-width="2.3" fill="none" />
<text transform="translate(476.92 1321.95)" font-size="19.4" font-family="Liberation Sans, sans-serif" fill="#000" stroke="#000" stroke-width="0.34">0.2</text>
<path d="M453.75 1365.5L466.75 1365.5" stroke="#000" stroke-width="2.3" fill="none" />
<text transform="translate(476.92 1372.8)" font-size="19.4" font-family="Liberation Sans, sans-serif" fill="#000" stroke="#000" stroke-width="0.34">0.0</text>
<path d="M271.75 1103.75L268 1368.75" stroke="#000" stroke-width="3.3" fill="none" stroke-dasharray="9.6 3.6"/>
<path d="M327 1120L433 1120L433 1192.5" stroke="#000" stroke-width="2.2" fill="none" />
<text transform="translate(358.59 1115.05)" font-size="20.27" font-family="Liberation Sans, sans-serif" fill="#000" stroke="#000" stroke-width="0.35">0.02</text>
<path d="M105.55 1180.34V1285.39M99.35 1180.34H111.75M99.35 1285.39H111.75" stroke="#0000ff" stroke-width="1.4" fill="none"/>
<path d="M140.32 1177.83V1241.37M134.12 1177.83H146.52M134.12 1241.37H146.52" stroke="#0000ff" stroke-width="1.4" fill="none"/>
<path d="M174.84 1181.34V1254.62M168.64 1181.34H181.04M168.64 1254.62H181.04" stroke="#0000ff" stroke-width="1.4" fill="none"/>
<path d="M209.6 1217.6V1276.88M203.4 1217.6H215.8M203.4 1276.88H215.8" stroke="#0000ff" stroke-width="1.4" fill="none"/>
<path d="M244.37 1191.34V1284.64M238.17 1191.34H250.57M238.17 1284.64H250.57" stroke="#0000ff" stroke-width="1.4" fill="none"/>
<path d="M293.15 1333.91V1346.42M286.95 1333.91H299.35M286.95 1346.42H299.35" stroke="#0000ff" stroke-width="1.4" fill="none"/>
<path d="M327.51 1144.05V1242.1M321.31 1144.05H333.71M321.31 1242.1H333.71" stroke="#0000ff" stroke-width="1.4" fill="none"/>
<path d="M362.03 1330.65V1352.16M355.83 1330.65H368.23M355.83 1352.16H368.23" stroke="#0000ff" stroke-width="1.4" fill="none"/>
<path d="M396.55 1193.58V1315.14M390.35 1193.58H402.75M390.35 1315.14H402.75" stroke="#0000ff" stroke-width="1.4" fill="none"/>
<path d="M430.57 1264.11V1325.14M424.37 1264.11H436.77M424.37 1325.14H436.77" stroke="#0000ff" stroke-width="1.4" fill="none"/>
<path d="M101.85 1156.82a3.7 3.7 0 1 0 7.4 0a3.7 3.7 0 1 0 -7.4 0M101.85 1243.87a3.7 3.7 0 1 0 7.4 0a3.7 3.7 0 1 0 -7.4 0M101.85 1252.87a3.7 3.7 0 1 0 7.4 0a3.7 3.7 0 1 0 -7.4 0M101.85 1277.63a3.7 3.7 0 1 0 7.4 0a3.7 3.7 0 1 0 -7.4 0M136.62 1173.33a3.7 3.7 0 1 0 7.4 0a3.7 3.7 0 1 0 -7.4 0M136.62 1223.86a3.7 3.7 0 1 0 7.4 0a3.7 3.7 0 1 0 -7.4 0M136.62 1232.11a3.7 3.7 0 1 0 7.4 0a3.7 3.7 0 1 0 -7.4 0M171.14 1181.09a3.7 3.7 0 1 0 7.4 0a3.7 3.7 0 1 0 -7.4 0M163.38 1208.1a3.7 3.7 0 1 0 7.4 0a3.7 3.7 0 1 0 -7.4 0M178.89 1213.1a3.7 3.7 0 1 0 7.4 0a3.7 3.7 0 1 0 -7.4 0M171.14 1269.38a3.7 3.7 0 1 0 7.4 0a3.7 3.7 0 1 0 -7.4 0M205.9 1217.35a3.7 3.7 0 1 0 7.4 0a3.7 3.7 0 1 0 -7.4 0M197.9 1239.61a3.7 3.7 0 1 0 7.4 0a3.7 3.7 0 1 0 -7.4 0M213.66 1244.12a3.7 3.7 0 1 0 7.4 0a3.7 3.7 0 1 0 -7.4 0M205.9 1288.14a3.7 3.7 0 1 0 7.4 0a3.7 3.7 0 1 0 -7.4 0M232.67 1201.6a3.7 3.7 0 1 0 7.4 0a3.7 3.7 0 1 0 -7.4 0M248.18 1195.09a3.7 3.7 0 1 0 7.4 0a3.7 3.7 0 1 0 -7.4 0M240.67 1273.88a3.7 3.7 0 1 0 7.4 0a3.7 3.7 0 1 0 -7.4 0M240.67 1282.89a3.7 3.7 0 1 0 7.4 0a3.7 3.7 0 1 0 -7.4 0M289.45 1332.16a3.7 3.7 0 1 0 7.4 0a3.7 3.7 0 1 0 -7.4 0M281.69 1346.42a3.7 3.7 0 1 0 7.4 0a3.7 3.7 0 1 0 -7.4 0M289.45 1340.17a3.7 3.7 0 1 0 7.4 0a3.7 3.7 0 1 0 -7.4 0M297.2 1342.67a3.7 3.7 0 1 0 7.4 0a3.7 3.7 0 1 0 -7.4 0M323.81 1138.8a3.7 3.7 0 1 0 7.4 0a3.7 3.7 0 1 0 -7.4 0M323.81 1206.83a3.7 3.7 0 1 0 7.4 0a3.7 3.7 0 1 0 -7.4 0M323.81 1234.1a3.7 3.7 0 1 0 7.4 0a3.7 3.7 0 1 0 -7.4 0M358.33 1330.15a3.7 3.7 0 1 0 7.4 0a3.7 3.7 0 1 0 -7.4 0M350.58 1337.65a3.7 3.7 0 1 0 7.4 0a3.7 3.7 0 1 0 -7.4 0M366.08 1343.15a3.7 3.7 0 1 0 7.4 0a3.7 3.7 0 1 0 -7.4 0M358.33 1355.91a3.7 3.7 0 1 0 7.4 0a3.7 3.7 0 1 0 -7.4 0M392.85 1180.82a3.7 3.7 0 1 0 7.4 0a3.7 3.7 0 1 0 -7.4 0M392.85 1229.84a3.7 3.7 0 1 0 7.4 0a3.7 3.7 0 1 0 -7.4 0M392.85 1297.63a3.7 3.7 0 1 0 7.4 0a3.7 3.7 0 1 0 -7.4 0M392.85 1310.14a3.7 3.7 0 1 0 7.4 0a3.7 3.7 0 1 0 -7.4 0M426.87 1263.36a3.7 3.7 0 1 0 7.4 0a3.7 3.7 0 1 0 -7.4 0M426.87 1278.37a3.7 3.7 0 1 0 7.4 0a3.7 3.7 0 1 0 -7.4 0M426.87 1303.88a3.7 3.7 0 1 0 7.4 0a3.7 3.7 0 1 0 -7.4 0M426.87 1332.15a3.7 3.7 0 1 0 7.4 0a3.7 3.7 0 1 0 -7.4 0" fill="#0000ff"/>
<text transform="translate(96.67 1390.7)" font-size="22.6" font-family="Liberation Sans, sans-serif" fill="#0433ff" stroke="#0433ff" stroke-width="0.4">1</text>
<text transform="translate(130.73 1390.7)" font-size="22.6" font-family="Liberation Sans, sans-serif" fill="#0433ff" stroke="#0433ff" stroke-width="0.4">2</text>
<text transform="translate(163.28 1390.7)" font-size="22.6" font-family="Liberation Sans, sans-serif" fill="#0433ff" stroke="#0433ff" stroke-width="0.4">3</text>
<text transform="translate(202.53 1390.7)" font-size="22.6" font-family="Liberation Sans, sans-serif" fill="#0433ff" stroke="#0433ff" stroke-width="0.4">4</text>
<text transform="translate(235.73 1390.7)" font-size="22.6" font-family="Liberation Sans, sans-serif" fill="#0433ff" stroke="#0433ff" stroke-width="0.4">5</text>
<text transform="translate(287.89 1390.7)" font-size="22.6" font-family="Liberation Sans, sans-serif" fill="#0433ff" stroke="#0433ff" stroke-width="0.4">6</text>
<text transform="translate(321.23 1390.7)" font-size="22.6" font-family="Liberation Sans, sans-serif" fill="#0433ff" stroke="#0433ff" stroke-width="0.4">7</text>
<text transform="translate(353.93 1390.7)" font-size="22.6" font-family="Liberation Sans, sans-serif" fill="#0433ff" stroke="#0433ff" stroke-width="0.4">8</text>
<text transform="translate(386.5 1390.7)" font-size="22.6" font-family="Liberation Sans, sans-serif" fill="#0433ff" stroke="#0433ff" stroke-width="0.4">9</text>
<text transform="translate(413.33 1390.7)" font-size="22.6" font-family="Liberation Sans, sans-serif" fill="#0433ff" stroke="#0433ff" stroke-width="0.4">10</text>
<text transform="translate(113 1429.84) rotate(-90) scale(0.8268 1)" font-size="20.78" font-family="Liberation Sans, sans-serif" fill="#000" stroke="#000" stroke-width="0.36">WT</text>
<text transform="translate(144.5 1444.76) rotate(-90) scale(0.9319 1)" font-size="20.78" font-family="Liberation Sans, sans-serif" fill="#000" stroke="#000" stroke-width="0.36">rKO1</text>
<text transform="translate(180 1446.9) rotate(-90) scale(0.9117 1)" font-size="20.78" font-family="Liberation Sans, sans-serif" fill="#000" stroke="#000" stroke-width="0.36">+/Δ<tspan font-style="italic"> R</tspan></text>
<text transform="translate(212.5 1444.76) rotate(-90) scale(0.9319 1)" font-size="20.78" font-family="Liberation Sans, sans-serif" fill="#000" stroke="#000" stroke-width="0.36">rKO1</text>
<text transform="translate(247.5 1444.76) rotate(-90) scale(0.9319 1)" font-size="20.78" font-family="Liberation Sans, sans-serif" fill="#000" stroke="#000" stroke-width="0.36">rKO1</text>
<text transform="translate(300 1429.84) rotate(-90) scale(0.8268 1)" font-size="20.78" font-family="Liberation Sans, sans-serif" fill="#000" stroke="#000" stroke-width="0.36">WT</text>
<text transform="translate(331.25 1444.76) rotate(-90) scale(0.9319 1)" font-size="20.78" font-family="Liberation Sans, sans-serif" fill="#000" stroke="#000" stroke-width="0.36">rKO1</text>
<text transform="translate(367 1446.9) rotate(-90) scale(0.9117 1)" font-size="20.78" font-family="Liberation Sans, sans-serif" fill="#000" stroke="#000" stroke-width="0.36">+/Δ<tspan font-style="italic"> R</tspan></text>
<text transform="translate(400 1444.76) rotate(-90) scale(0.9319 1)" font-size="20.78" font-family="Liberation Sans, sans-serif" fill="#000" stroke="#000" stroke-width="0.36">rKO1</text>
<text transform="translate(435 1444.76) rotate(-90) scale(0.9319 1)" font-size="20.78" font-family="Liberation Sans, sans-serif" fill="#000" stroke="#000" stroke-width="0.36">rKO1</text>
<path d="M157.5 1450.25L211.25 1450.25" stroke="#000" stroke-width="1.9" fill="none" />
<path d="M226.75 1450.25L263.25 1450.25" stroke="#000" stroke-width="1.9" fill="none" />
<path d="M345 1450.25L401.25 1450.25" stroke="#000" stroke-width="1.9" fill="none" />
<path d="M416.25 1450.25L453 1450.25" stroke="#000" stroke-width="1.9" fill="none" />
<text transform="translate(100.79 1473.8)" font-size="20.43" font-family="Liberation Sans, sans-serif" fill="#ff40ff" stroke="#ff40ff" stroke-width="0.36">TAM:</text>
<text transform="translate(159.58 1473.8)" font-size="20.23" font-family="Liberation Sans, sans-serif" fill="#ff40ff" stroke="#ff40ff" stroke-width="0.35">Low</text>
<text transform="translate(217.78 1473.8)" font-size="20.85" font-family="Liberation Sans, sans-serif" fill="#ff40ff" stroke="#ff40ff" stroke-width="0.36">Full</text>
<text transform="translate(350.82 1473.8)" font-size="20.37" font-family="Liberation Sans, sans-serif" fill="#ff40ff" stroke="#ff40ff" stroke-width="0.36">Low</text>
<text transform="translate(410.78 1473.8)" font-size="20.85" font-family="Liberation Sans, sans-serif" fill="#ff40ff" stroke="#ff40ff" stroke-width="0.36">Full</text>
<text transform="translate(-0.96 1039.8) scale(1.0593 1)" font-size="41.5" font-family="Liberation Sans, sans-serif" font-weight="bold" fill="#000" stroke="#000" stroke-width="0.62">d</text>
<text transform="translate(90.65 1047.8)" font-size="26.99" font-family="Liberation Sans, sans-serif" fill="#0433ff" stroke="#0433ff" stroke-width="0.47">Conventional CD4 cell number</text>
<path d="M83.25 1060.5L469.75 1060.5" stroke="#0433ff" stroke-width="1.9" fill="none" />
<text transform="translate(127.53 1086.3)" font-size="27.04" font-family="Liberation Sans, sans-serif" fill="#0433ff" stroke="#0433ff" stroke-width="0.47">Spleen</text>
<text transform="translate(336.75 1086.8)" font-size="27.29" font-family="Liberation Sans, sans-serif" fill="#0433ff" stroke="#0433ff" stroke-width="0.48">Liver</text>
<text transform="translate(461.6 1089.8)" font-size="22.75" font-family="Liberation Sans, sans-serif" fill="#000" stroke="#000" stroke-width="0.4"><tspan font-style="italic">n</tspan> = 3–4</text>
<text transform="translate(21.9 1336.87) rotate(-90)" font-size="27.55" font-family="Liberation Sans, sans-serif" fill="#000" stroke="#000" stroke-width="0.48">Tconv (million)</text>
<g clip-path="url(#ce0)">
<g filter="url(#spe)"><rect x="655.6" y="1203" width="153.4" height="165.6" fill="#fff" opacity="0"/><ellipse cx="737.3" cy="1262" rx="80" ry="62" fill="url(#gh)" opacity="0.07"/><ellipse cx="732.3" cy="1345" rx="75" ry="26" fill="url(#gh)" opacity="0.05"/></g>
<g filter="url(#soft)">
<path d="M686 1296C688.67 1290 694 1286.67 700 1284C706 1281.33 715 1282 722 1280C729 1278 737.5 1275.67 742 1272C746.5 1268.33 747.5 1262.67 749 1258C750.5 1253.33 749.67 1247.33 751 1244C752.33 1240.67 755 1238 757 1238C759 1238 761.83 1240.67 763 1244C764.17 1247.33 763.17 1253.33 764 1258C764.83 1262.67 765.17 1268.17 768 1272C770.83 1275.83 779 1277 781 1281C783 1285 781.83 1290.83 780 1296C778.17 1301.17 773.17 1307 770 1312C766.83 1317 763.67 1321.33 761 1326C758.33 1330.67 757.83 1336.5 754 1340C750.17 1343.5 743.67 1346 738 1347C732.33 1348 726.33 1347.5 720 1346C713.67 1344.5 706 1342.33 700 1338C694 1333.67 686.33 1327 684 1320C681.67 1313 683.33 1302 686 1296Z" fill="none" stroke="#5a5a5a" stroke-width="0.8" stroke-opacity="0.6"/>
<path d="M689.78 1297.12C692.26 1291.54 697.22 1288.44 702.8 1285.96C708.38 1283.48 716.75 1284.1 723.26 1282.24C729.77 1280.38 737.67 1278.21 741.86 1274.8C746.05 1271.39 746.98 1266.12 748.37 1261.78C749.76 1257.44 748.99 1251.86 750.23 1248.76C751.47 1245.66 753.95 1243.18 755.81 1243.18C757.67 1243.18 760.3 1245.66 761.39 1248.76C762.48 1251.86 761.55 1257.44 762.32 1261.78C763.1 1266.12 763.4 1271.23 766.04 1274.8C768.67 1278.37 776.27 1279.45 778.13 1283.17C779.99 1286.89 778.91 1292.31 777.2 1297.12C775.5 1301.92 770.85 1307.35 767.9 1312C764.95 1316.65 762.01 1320.68 759.53 1325.02C757.05 1329.36 756.59 1334.78 753.02 1338.04C749.45 1341.3 743.41 1343.62 738.14 1344.55C732.87 1345.48 727.29 1345.01 721.4 1343.62C715.51 1342.22 708.38 1340.21 702.8 1336.18C697.22 1332.15 690.09 1325.95 687.92 1319.44C685.75 1312.93 687.3 1302.7 689.78 1297.12Z" fill="none" stroke="#5a5a5a" stroke-width="0.8" stroke-opacity="0.6"/>
<path d="M700 1300C703.33 1294.67 715 1293 722 1290C729 1287 736.33 1284.33 742 1282C747.67 1279.67 751 1275.67 756 1276C761 1276.33 769.33 1280.33 772 1284C774.67 1287.67 773.33 1293.33 772 1298C770.67 1302.67 766.67 1307.33 764 1312C761.33 1316.67 758.67 1321.67 756 1326C753.33 1330.33 751.67 1335.33 748 1338C744.33 1340.67 739.33 1342 734 1342C728.67 1342 721.33 1341.33 716 1338C710.67 1334.67 704.67 1328.33 702 1322C699.33 1315.67 696.67 1305.33 700 1300Z" fill="none" stroke="#5a5a5a" stroke-width="0.8" stroke-opacity="0.7"/>
<path d="M705.04 1301.44C707.97 1296.75 718.24 1295.28 724.4 1292.64C730.56 1290 737.01 1287.65 742 1285.6C746.99 1283.55 749.92 1280.03 754.32 1280.32C758.72 1280.61 766.05 1284.13 768.4 1287.36C770.75 1290.59 769.57 1295.57 768.4 1299.68C767.23 1303.79 763.71 1307.89 761.36 1312C759.01 1316.11 756.67 1320.51 754.32 1324.32C751.97 1328.13 750.51 1332.53 747.28 1334.88C744.05 1337.23 739.65 1338.4 734.96 1338.4C730.27 1338.4 723.81 1337.81 719.12 1334.88C714.43 1331.95 709.15 1326.37 706.8 1320.8C704.45 1315.23 702.11 1306.13 705.04 1301.44Z" fill="none" stroke="#5a5a5a" stroke-width="0.8" stroke-opacity="0.7"/>
<path d="M710.08 1302.88C712.61 1298.83 721.48 1297.56 726.8 1295.28C732.12 1293 737.69 1290.97 742 1289.2C746.31 1287.43 748.84 1284.39 752.64 1284.64C756.44 1284.89 762.77 1287.93 764.8 1290.72C766.83 1293.51 765.81 1297.81 764.8 1301.36C763.79 1304.91 760.75 1308.45 758.72 1312C756.69 1315.55 754.67 1319.35 752.64 1322.64C750.61 1325.93 749.35 1329.73 746.56 1331.76C743.77 1333.79 739.97 1334.8 735.92 1334.8C731.87 1334.8 726.29 1334.29 722.24 1331.76C718.19 1329.23 713.63 1324.41 711.6 1319.6C709.57 1314.79 707.55 1306.93 710.08 1302.88Z" fill="none" stroke="#5a5a5a" stroke-width="0.8" stroke-opacity="0.7"/>
<path d="M715.12 1304.32C717.25 1300.91 724.72 1299.84 729.2 1297.92C733.68 1296 738.37 1294.29 742 1292.8C745.63 1291.31 747.76 1288.75 750.96 1288.96C754.16 1289.17 759.49 1291.73 761.2 1294.08C762.91 1296.43 762.05 1300.05 761.2 1303.04C760.35 1306.03 757.79 1309.01 756.08 1312C754.37 1314.99 752.67 1318.19 750.96 1320.96C749.25 1323.73 748.19 1326.93 745.84 1328.64C743.49 1330.35 740.29 1331.2 736.88 1331.2C733.47 1331.2 728.77 1330.77 725.36 1328.64C721.95 1326.51 718.11 1322.45 716.4 1318.4C714.69 1314.35 712.99 1307.73 715.12 1304.32Z" fill="none" stroke="#5a5a5a" stroke-width="0.8" stroke-opacity="0.7"/>
<path d="M720.16 1305.76C721.89 1302.99 727.96 1302.12 731.6 1300.56C735.24 1299 739.05 1297.61 742 1296.4C744.95 1295.19 746.68 1293.11 749.28 1293.28C751.88 1293.45 756.21 1295.53 757.6 1297.44C758.99 1299.35 758.29 1302.29 757.6 1304.72C756.91 1307.15 754.83 1309.57 753.44 1312C752.05 1314.43 750.67 1317.03 749.28 1319.28C747.89 1321.53 747.03 1324.13 745.12 1325.52C743.21 1326.91 740.61 1327.6 737.84 1327.6C735.07 1327.6 731.25 1327.25 728.48 1325.52C725.71 1323.79 722.59 1320.49 721.2 1317.2C719.81 1313.91 718.43 1308.53 720.16 1305.76Z" fill="none" stroke="#5a5a5a" stroke-width="0.8" stroke-opacity="0.7"/>
<path d="M725.2 1307.2C726.53 1305.07 731.2 1304.4 734 1303.2C736.8 1302 739.73 1300.93 742 1300C744.27 1299.07 745.6 1297.47 747.6 1297.6C749.6 1297.73 752.93 1299.33 754 1300.8C755.07 1302.27 754.53 1304.53 754 1306.4C753.47 1308.27 751.87 1310.13 750.8 1312C749.73 1313.87 748.67 1315.87 747.6 1317.6C746.53 1319.33 745.87 1321.33 744.4 1322.4C742.93 1323.47 740.93 1324 738.8 1324C736.67 1324 733.73 1323.73 731.6 1322.4C729.47 1321.07 727.07 1318.53 726 1316C724.93 1313.47 723.87 1309.33 725.2 1307.2Z" fill="none" stroke="#5a5a5a" stroke-width="0.8" stroke-opacity="0.7"/>
<path d="M753 1262C752.17 1259 751.67 1253.33 752 1250C752.33 1246.67 753.83 1243.33 755 1242C756.17 1240.67 758 1240.67 759 1242C760 1243.33 760.83 1246.67 761 1250C761.17 1253.33 760.67 1259 760 1262C759.33 1265 758.17 1268 757 1268C755.83 1268 753.83 1265 753 1262Z" fill="none" stroke="#5a5a5a" stroke-width="0.8" stroke-opacity="0.7"/>
<path d="M752 1207C760 1215 782 1214 796 1207M757 1207C764 1212 778 1211 789 1207M762 1207C768 1210 775 1209 781 1207" fill="none" stroke="#6a6a6a" stroke-width="0.7" stroke-opacity="0.6"/>
<ellipse cx="692.1" cy="1326" rx="38" ry="19.5" fill="#fff"/>
<ellipse cx="737" cy="1325" rx="19" ry="16.5" fill="#fff"/>
<ellipse cx="692.1" cy="1326" rx="38" ry="19.5" fill="#555" fill-opacity="0.04" stroke="#555" stroke-width="0.8" stroke-opacity="0.65"/>
<ellipse cx="691.7" cy="1325.75" rx="35.34" ry="17.92" fill="#555" fill-opacity="0.04" stroke="#555" stroke-width="0.8" stroke-opacity="0.65"/>
<ellipse cx="691.3" cy="1325.5" rx="32.68" ry="16.37" fill="#555" fill-opacity="0.04" stroke="#555" stroke-width="0.8" stroke-opacity="0.65"/>
<ellipse cx="690.9" cy="1325.25" rx="30.02" ry="14.85" fill="#555" fill-opacity="0.04" stroke="#555" stroke-width="0.8" stroke-opacity="0.65"/>
<ellipse cx="690.5" cy="1325" rx="27.36" ry="13.37" fill="#555" fill-opacity="0.04" stroke="#555" stroke-width="0.8" stroke-opacity="0.65"/>
<ellipse cx="690.1" cy="1324.75" rx="24.7" ry="11.91" fill="#555" fill-opacity="0.04" stroke="#555" stroke-width="0.8" stroke-opacity="0.65"/>
<ellipse cx="689.7" cy="1324.5" rx="22.04" ry="10.5" fill="#555" fill-opacity="0.04" stroke="#555" stroke-width="0.8" stroke-opacity="0.65"/>
<ellipse cx="689.3" cy="1324.25" rx="19.38" ry="9.11" fill="#555" fill-opacity="0.04" stroke="#555" stroke-width="0.8" stroke-opacity="0.65"/>
<ellipse cx="688.9" cy="1324" rx="16.72" ry="7.76" fill="#555" fill-opacity="0.04" stroke="#555" stroke-width="0.8" stroke-opacity="0.65"/>
<ellipse cx="688.5" cy="1323.75" rx="14.06" ry="6.44" fill="#555" fill-opacity="0.04" stroke="#555" stroke-width="0.8" stroke-opacity="0.65"/>
<ellipse cx="688.1" cy="1323.5" rx="11.4" ry="5.15" fill="#555" fill-opacity="0.04" stroke="#555" stroke-width="0.8" stroke-opacity="0.65"/>
<ellipse cx="687.7" cy="1323.25" rx="8.74" ry="3.89" fill="#555" fill-opacity="0.04" stroke="#555" stroke-width="0.8" stroke-opacity="0.65"/>
<ellipse cx="687.3" cy="1323" rx="6.08" ry="2.67" fill="#555" fill-opacity="0.04" stroke="#555" stroke-width="0.8" stroke-opacity="0.65"/>
<ellipse cx="689.1" cy="1319.5" rx="24" ry="6" fill="#555" fill-opacity="0.22"/>
<ellipse cx="696.1" cy="1327" rx="11" ry="1.5" fill="#fff"/>
<ellipse cx="737" cy="1325" rx="19" ry="16.5" fill="none" stroke="#555" stroke-width="0.8" stroke-opacity="0.6"/>
<ellipse cx="736.4" cy="1325.1" rx="17.1" ry="14.85" fill="none" stroke="#555" stroke-width="0.8" stroke-opacity="0.6"/>
<ellipse cx="735.8" cy="1325.2" rx="15.2" ry="13.2" fill="none" stroke="#555" stroke-width="0.8" stroke-opacity="0.6"/>
<ellipse cx="735.2" cy="1325.3" rx="13.3" ry="11.55" fill="none" stroke="#555" stroke-width="0.8" stroke-opacity="0.6"/>
<ellipse cx="734.6" cy="1325.4" rx="11.4" ry="9.9" fill="none" stroke="#555" stroke-width="0.8" stroke-opacity="0.6"/>
<ellipse cx="734" cy="1325.5" rx="9.5" ry="8.25" fill="none" stroke="#555" stroke-width="0.8" stroke-opacity="0.6"/>
<ellipse cx="733.4" cy="1325.6" rx="7.6" ry="6.6" fill="none" stroke="#555" stroke-width="0.8" stroke-opacity="0.6"/>
<ellipse cx="732.8" cy="1325.7" rx="5.7" ry="4.95" fill="none" stroke="#555" stroke-width="0.8" stroke-opacity="0.6"/>
<ellipse cx="732.2" cy="1325.8" rx="3.8" ry="3.3" fill="none" stroke="#555" stroke-width="0.8" stroke-opacity="0.6"/>
</g>
</g>
<rect x="659.6" y="1207" width="145.4" height="157.6" fill="none" stroke="#6e6e6e" stroke-width="1.1" />
<path d="M722.5 1207L722.5 1367.6" stroke="#2e2e2e" stroke-width="1.3" fill="none" />
<path d="M659.6 1309.4L805 1309.4" stroke="#2e2e2e" stroke-width="1.3" fill="none" />
<path d="M659.6 1227.5h-3.6M659.6 1273h-3.6M659.6 1318h-3.6M659.6 1364.3h-3.6M659.6 1210h-1.5M659.6 1215.2h-1.5M659.6 1220.4h-1.5M659.6 1225.6h-1.5M659.6 1230.8h-1.5M659.6 1236h-1.5M659.6 1241.2h-1.5M659.6 1246.4h-1.5M659.6 1251.6h-1.5M659.6 1256.8h-1.5M659.6 1262h-1.5M659.6 1267.2h-1.5M659.6 1272.4h-1.5M659.6 1277.6h-1.5M659.6 1282.8h-1.5M659.6 1288h-1.5M659.6 1293.2h-1.5M659.6 1298.4h-1.5M659.6 1303.6h-1.5M659.6 1308.8h-1.5M659.6 1314h-1.5M659.6 1319.2h-1.5M659.6 1324.4h-1.5M659.6 1329.6h-1.5M659.6 1334.8h-1.5M659.6 1340h-1.5M659.6 1345.2h-1.5M659.6 1350.4h-1.5M659.6 1355.6h-1.5M659.6 1360.8h-1.5M662.6 1364.6v1.6M667.8 1364.6v1.6M673 1364.6v1.6M678.2 1364.6v1.6M683.4 1364.6v1.6M688.6 1364.6v1.6M693.8 1364.6v1.6M699 1364.6v1.6M704.2 1364.6v1.6M709.4 1364.6v1.6M714.6 1364.6v1.6M719.8 1364.6v1.6M725 1364.6v1.6M730.2 1364.6v1.6M735.4 1364.6v1.6M740.6 1364.6v1.6M745.8 1364.6v1.6M751 1364.6v1.6M756.2 1364.6v1.6M761.4 1364.6v1.6M766.6 1364.6v1.6M771.8 1364.6v1.6M777 1364.6v1.6M782.2 1364.6v1.6M787.4 1364.6v1.6M792.6 1364.6v1.6M797.8 1364.6v1.6M803 1364.6v1.6M746.6 1364.6v3M779.6 1364.6v3" stroke="#666" stroke-width="0.8" fill="none"/>
<rect x="673.6" y="1365.6" width="15" height="1.8" fill="#444"/>
<text transform="translate(660.94 1240.9)" font-size="21.19" font-family="Liberation Sans, sans-serif" fill="#000" stroke="#000" stroke-width="0.16">6.09</text>
<text transform="translate(741.43 1240.9)" font-size="20.96" font-family="Liberation Sans, sans-serif" fill="#000" stroke="#000" stroke-width="0.16">18.3</text>
<text transform="translate(661.36 1346.5)" font-size="21.02" font-family="Liberation Sans, sans-serif" fill="#000" stroke="#000" stroke-width="0.16">59.2</text>
<text transform="translate(742.26 1346.5)" font-size="20.49" font-family="Liberation Sans, sans-serif" fill="#000" stroke="#000" stroke-width="0.15">16.5</text>
<g clip-path="url(#ce1)">
<g filter="url(#spe)"><rect x="806" y="1203" width="152.8" height="165.6" fill="#fff" opacity="0"/><ellipse cx="905.5" cy="1258" rx="9" ry="62" fill="url(#gh)" opacity="0.22"/><ellipse cx="905" cy="1266" rx="20" ry="68" fill="url(#gh)" opacity="0.19"/><ellipse cx="872" cy="1266" rx="54" ry="60" fill="url(#gh)" opacity="0.18"/><ellipse cx="880" cy="1275" rx="95" ry="85" fill="url(#gh)" opacity="0.09"/><ellipse cx="905" cy="1318" rx="14" ry="30" fill="url(#gh)" opacity="0.2"/><ellipse cx="857" cy="1327" rx="53" ry="27" fill="url(#gh)" opacity="0.25"/><ellipse cx="845" cy="1349" rx="45" ry="9" fill="url(#gh)" opacity="0.15"/></g>
<ellipse cx="857.6" cy="1326.3" rx="46.5" ry="20.3" fill="#fff" stroke="#555" stroke-width="0.8"/>
<g filter="url(#soft)">
<ellipse cx="856.1" cy="1326.1" rx="43.15" ry="18.46" fill="#555" fill-opacity="0.03" stroke="#666" stroke-width="0.7" stroke-opacity="0.6"/>
<ellipse cx="854.6" cy="1325.9" rx="39.8" ry="16.68" fill="#555" fill-opacity="0.03" stroke="#666" stroke-width="0.7" stroke-opacity="0.6"/>
<ellipse cx="853.1" cy="1325.7" rx="36.46" ry="14.96" fill="#555" fill-opacity="0.03" stroke="#666" stroke-width="0.7" stroke-opacity="0.6"/>
<ellipse cx="851.6" cy="1325.5" rx="33.11" ry="13.3" fill="#555" fill-opacity="0.03" stroke="#666" stroke-width="0.7" stroke-opacity="0.6"/>
<ellipse cx="850.1" cy="1325.3" rx="29.76" ry="11.69" fill="#555" fill-opacity="0.03" stroke="#666" stroke-width="0.7" stroke-opacity="0.6"/>
<ellipse cx="848.6" cy="1325.1" rx="26.41" ry="10.15" fill="#555" fill-opacity="0.03" stroke="#666" stroke-width="0.7" stroke-opacity="0.6"/>
<ellipse cx="847.1" cy="1324.9" rx="23.06" ry="8.66" fill="#555" fill-opacity="0.03" stroke="#666" stroke-width="0.7" stroke-opacity="0.6"/>
<ellipse cx="845.6" cy="1324.7" rx="19.72" ry="7.23" fill="#555" fill-opacity="0.03" stroke="#666" stroke-width="0.7" stroke-opacity="0.6"/>
<ellipse cx="844.1" cy="1324.5" rx="16.37" ry="5.86" fill="#555" fill-opacity="0.03" stroke="#666" stroke-width="0.7" stroke-opacity="0.6"/>
<ellipse cx="842.6" cy="1324.3" rx="13.02" ry="4.55" fill="#555" fill-opacity="0.03" stroke="#666" stroke-width="0.7" stroke-opacity="0.6"/>
<ellipse cx="841.1" cy="1324.1" rx="9.67" ry="3.29" fill="#555" fill-opacity="0.03" stroke="#666" stroke-width="0.7" stroke-opacity="0.6"/>
<ellipse cx="839.6" cy="1323.9" rx="6.32" ry="2.1" fill="#555" fill-opacity="0.03" stroke="#666" stroke-width="0.7" stroke-opacity="0.6"/>
<ellipse cx="838" cy="1320" rx="24" ry="6" fill="#555" fill-opacity="0.25"/>
<ellipse cx="841" cy="1327" rx="9" ry="1.6" fill="#fff"/>
<ellipse cx="909" cy="1221" rx="1.7" ry="5" fill="#fff"/>
</g>
</g>
<rect x="810" y="1207" width="144.8" height="157.6" fill="none" stroke="#6e6e6e" stroke-width="1.1" />
<path d="M872.3 1207L872.3 1367.6" stroke="#2e2e2e" stroke-width="1.3" fill="none" />
<path d="M810 1309.4L954.8 1309.4" stroke="#2e2e2e" stroke-width="1.3" fill="none" />
<path d="M810 1227.5h-3.6M810 1273h-3.6M810 1318h-3.6M810 1364.3h-3.6M810 1210h-1.5M810 1215.2h-1.5M810 1220.4h-1.5M810 1225.6h-1.5M810 1230.8h-1.5M810 1236h-1.5M810 1241.2h-1.5M810 1246.4h-1.5M810 1251.6h-1.5M810 1256.8h-1.5M810 1262h-1.5M810 1267.2h-1.5M810 1272.4h-1.5M810 1277.6h-1.5M810 1282.8h-1.5M810 1288h-1.5M810 1293.2h-1.5M810 1298.4h-1.5M810 1303.6h-1.5M810 1308.8h-1.5M810 1314h-1.5M810 1319.2h-1.5M810 1324.4h-1.5M810 1329.6h-1.5M810 1334.8h-1.5M810 1340h-1.5M810 1345.2h-1.5M810 1350.4h-1.5M810 1355.6h-1.5M810 1360.8h-1.5M813 1364.6v1.6M818.2 1364.6v1.6M823.4 1364.6v1.6M828.6 1364.6v1.6M833.8 1364.6v1.6M839 1364.6v1.6M844.2 1364.6v1.6M849.4 1364.6v1.6M854.6 1364.6v1.6M859.8 1364.6v1.6M865 1364.6v1.6M870.2 1364.6v1.6M875.4 1364.6v1.6M880.6 1364.6v1.6M885.8 1364.6v1.6M891 1364.6v1.6M896.2 1364.6v1.6M901.4 1364.6v1.6M906.6 1364.6v1.6M911.8 1364.6v1.6M917 1364.6v1.6M922.2 1364.6v1.6M927.4 1364.6v1.6M932.6 1364.6v1.6M937.8 1364.6v1.6M943 1364.6v1.6M948.2 1364.6v1.6M953.4 1364.6v1.6M897 1364.6v3M930 1364.6v3" stroke="#666" stroke-width="0.8" fill="none"/>
<rect x="824" y="1365.6" width="15" height="1.8" fill="#444"/>
<text transform="translate(811.34 1240.9)" font-size="21.1" font-family="Liberation Sans, sans-serif" fill="#000" stroke="#000" stroke-width="0.16">2.90</text>
<text transform="translate(891.76 1240.9)" font-size="20.76" font-family="Liberation Sans, sans-serif" fill="#000" stroke="#000" stroke-width="0.16">6.92</text>
<text transform="translate(811.54 1346.5)" font-size="21.14" font-family="Liberation Sans, sans-serif" fill="#000" stroke="#000" stroke-width="0.16">76.7</text>
<text transform="translate(892.06 1346.5)" font-size="20.49" font-family="Liberation Sans, sans-serif" fill="#000" stroke="#000" stroke-width="0.15">13.5</text>
<g clip-path="url(#ce2)">
<g filter="url(#spe)"><rect x="956" y="1203" width="152.6" height="165.6" fill="#fff" opacity="0"/><ellipse cx="1037.3" cy="1262" rx="80" ry="62" fill="url(#gh)" opacity="0.07"/><ellipse cx="1032.3" cy="1345" rx="75" ry="26" fill="url(#gh)" opacity="0.05"/></g>
<g filter="url(#soft)">
<path d="M985.5 1300C986.17 1292.33 991.17 1287 993.5 1280C995.83 1273 997.5 1264.67 999.5 1258C1001.5 1251.33 1002.83 1245.33 1005.5 1240C1008.17 1234.67 1011.5 1230.33 1015.5 1226C1019.5 1221.67 1025.5 1216.33 1029.5 1214C1033.5 1211.67 1036.5 1210.67 1039.5 1212C1042.5 1213.33 1044.83 1221.33 1047.5 1222C1050.17 1222.67 1052.5 1217.67 1055.5 1216C1058.5 1214.33 1061.83 1212 1065.5 1212C1069.17 1212 1076.17 1211.33 1077.5 1216C1078.83 1220.67 1074.83 1232.33 1073.5 1240C1072.17 1247.67 1070.17 1253.67 1069.5 1262C1068.83 1270.33 1070.17 1281.67 1069.5 1290C1068.83 1298.33 1067.5 1305.33 1065.5 1312C1063.5 1318.67 1060.5 1325 1057.5 1330C1054.5 1335 1052.17 1339.33 1047.5 1342C1042.83 1344.67 1036.17 1346 1029.5 1346C1022.83 1346 1014.17 1345.33 1007.5 1342C1000.83 1338.67 993.17 1333 989.5 1326C985.83 1319 984.83 1307.67 985.5 1300Z" fill="none" stroke="#5a5a5a" stroke-width="0.8" stroke-opacity="0.6"/>
<path d="M988.44 1300C989.07 1292.79 993.77 1287.78 995.96 1281.2C998.15 1274.62 999.72 1266.79 1001.6 1260.52C1003.48 1254.25 1004.73 1248.61 1007.24 1243.6C1009.75 1238.59 1012.88 1234.51 1016.64 1230.44C1020.4 1226.37 1026.04 1221.35 1029.8 1219.16C1033.56 1216.97 1036.38 1216.03 1039.2 1217.28C1042.02 1218.53 1044.21 1226.05 1046.72 1226.68C1049.23 1227.31 1051.42 1222.61 1054.24 1221.04C1057.06 1219.47 1060.19 1217.28 1063.64 1217.28C1067.09 1217.28 1073.67 1216.65 1074.92 1221.04C1076.17 1225.43 1072.41 1236.39 1071.16 1243.6C1069.91 1250.81 1068.03 1256.45 1067.4 1264.28C1066.77 1272.11 1068.03 1282.77 1067.4 1290.6C1066.77 1298.43 1065.52 1305.01 1063.64 1311.28C1061.76 1317.55 1058.94 1323.5 1056.12 1328.2C1053.3 1332.9 1051.11 1336.97 1046.72 1339.48C1042.33 1341.99 1036.07 1343.24 1029.8 1343.24C1023.53 1343.24 1015.39 1342.61 1009.12 1339.48C1002.85 1336.35 995.65 1331.02 992.2 1324.44C988.75 1317.86 987.81 1307.21 988.44 1300Z" fill="none" stroke="#5a5a5a" stroke-width="0.8" stroke-opacity="0.6"/>
<path d="M999.5 1300C997.83 1295.33 1000.5 1285 1001.5 1278C1002.5 1271 1003.83 1263.67 1005.5 1258C1007.17 1252.33 1009.5 1247.33 1011.5 1244C1013.5 1240.67 1015.83 1237.67 1017.5 1238C1019.17 1238.33 1021.17 1242 1021.5 1246C1021.83 1250 1019.5 1256 1019.5 1262C1019.5 1268 1021.5 1275.67 1021.5 1282C1021.5 1288.33 1021.17 1296 1019.5 1300C1017.83 1304 1014.83 1306 1011.5 1306C1008.17 1306 1001.17 1304.67 999.5 1300Z" fill="none" stroke="#5a5a5a" stroke-width="0.8" stroke-opacity="0.7"/>
<path d="M1001.9 1294.8C1000.57 1291.07 1002.7 1282.8 1003.5 1277.2C1004.3 1271.6 1005.37 1265.73 1006.7 1261.2C1008.03 1256.67 1009.9 1252.67 1011.5 1250C1013.1 1247.33 1014.97 1244.93 1016.3 1245.2C1017.63 1245.47 1019.23 1248.4 1019.5 1251.6C1019.77 1254.8 1017.9 1259.6 1017.9 1264.4C1017.9 1269.2 1019.5 1275.33 1019.5 1280.4C1019.5 1285.47 1019.23 1291.6 1017.9 1294.8C1016.57 1298 1014.17 1299.6 1011.5 1299.6C1008.83 1299.6 1003.23 1298.53 1001.9 1294.8Z" fill="none" stroke="#5a5a5a" stroke-width="0.8" stroke-opacity="0.7"/>
<path d="M1025.5 1300C1023.5 1293.67 1024.5 1283 1025.5 1276C1026.5 1269 1028.5 1262.33 1031.5 1258C1034.5 1253.67 1039.5 1252 1043.5 1250C1047.5 1248 1052.17 1245.33 1055.5 1246C1058.83 1246.67 1062.17 1249.33 1063.5 1254C1064.83 1258.67 1064.17 1267 1063.5 1274C1062.83 1281 1061.5 1289.67 1059.5 1296C1057.5 1302.33 1055.17 1309 1051.5 1312C1047.83 1315 1041.83 1316 1037.5 1314C1033.17 1312 1027.5 1306.33 1025.5 1300Z" fill="none" stroke="#5a5a5a" stroke-width="0.8" stroke-opacity="0.7"/>
<path d="M1028.92 1296.76C1027.28 1291.57 1028.1 1282.82 1028.92 1277.08C1029.74 1271.34 1031.38 1265.87 1033.84 1262.32C1036.3 1258.77 1040.4 1257.4 1043.68 1255.76C1046.96 1254.12 1050.79 1251.93 1053.52 1252.48C1056.25 1253.03 1058.99 1255.21 1060.08 1259.04C1061.17 1262.87 1060.63 1269.7 1060.08 1275.44C1059.53 1281.18 1058.44 1288.29 1056.8 1293.48C1055.16 1298.67 1053.25 1304.14 1050.24 1306.6C1047.23 1309.06 1042.31 1309.88 1038.76 1308.24C1035.21 1306.6 1030.56 1301.95 1028.92 1296.76Z" fill="none" stroke="#5a5a5a" stroke-width="0.8" stroke-opacity="0.7"/>
<path d="M1032.72 1293.16C1031.48 1289.23 1032.1 1282.62 1032.72 1278.28C1033.34 1273.94 1034.58 1269.81 1036.44 1267.12C1038.3 1264.43 1041.4 1263.4 1043.88 1262.16C1046.36 1260.92 1049.25 1259.27 1051.32 1259.68C1053.39 1260.09 1055.45 1261.75 1056.28 1264.64C1057.11 1267.53 1056.69 1272.7 1056.28 1277.04C1055.87 1281.38 1055.04 1286.75 1053.8 1290.68C1052.56 1294.61 1051.11 1298.74 1048.84 1300.6C1046.57 1302.46 1042.85 1303.08 1040.16 1301.84C1037.47 1300.6 1033.96 1297.09 1032.72 1293.16Z" fill="none" stroke="#5a5a5a" stroke-width="0.8" stroke-opacity="0.7"/>
<circle cx="1013.5" cy="1258" r="2.4" fill="none" stroke="#6a6a6a" stroke-width="0.7" stroke-opacity="0.6"/>
<circle cx="1042.5" cy="1274" r="4.4" fill="none" stroke="#6a6a6a" stroke-width="0.7" stroke-opacity="0.6"/>
<circle cx="1030.5" cy="1289" r="2.6" fill="none" stroke="#6a6a6a" stroke-width="0.7" stroke-opacity="0.6"/>
<path d="M1052.5 1207c3 5 10 8 18 7c8 1 14 -3 16 -7M1056.5 1207c3 3 8 5 13 4c5 0 9 -2 11 -4" fill="none" stroke="#6a6a6a" stroke-width="0.7" stroke-opacity="0.6"/>
<ellipse cx="992.5" cy="1326" rx="38" ry="19.5" fill="#fff"/>
<ellipse cx="1036.5" cy="1325" rx="19" ry="16.5" fill="#fff"/>
<ellipse cx="992.5" cy="1326" rx="38" ry="19.5" fill="#555" fill-opacity="0.04" stroke="#555" stroke-width="0.8" stroke-opacity="0.65"/>
<ellipse cx="992.1" cy="1325.75" rx="35.34" ry="17.92" fill="#555" fill-opacity="0.04" stroke="#555" stroke-width="0.8" stroke-opacity="0.65"/>
<ellipse cx="991.7" cy="1325.5" rx="32.68" ry="16.37" fill="#555" fill-opacity="0.04" stroke="#555" stroke-width="0.8" stroke-opacity="0.65"/>
<ellipse cx="991.3" cy="1325.25" rx="30.02" ry="14.85" fill="#555" fill-opacity="0.04" stroke="#555" stroke-width="0.8" stroke-opacity="0.65"/>
<ellipse cx="990.9" cy="1325" rx="27.36" ry="13.37" fill="#555" fill-opacity="0.04" stroke="#555" stroke-width="0.8" stroke-opacity="0.65"/>
<ellipse cx="990.5" cy="1324.75" rx="24.7" ry="11.91" fill="#555" fill-opacity="0.04" stroke="#555" stroke-width="0.8" stroke-opacity="0.65"/>
<ellipse cx="990.1" cy="1324.5" rx="22.04" ry="10.5" fill="#555" fill-opacity="0.04" stroke="#555" stroke-width="0.8" stroke-opacity="0.65"/>
<ellipse cx="989.7" cy="1324.25" rx="19.38" ry="9.11" fill="#555" fill-opacity="0.04" stroke="#555" stroke-width="0.8" stroke-opacity="0.65"/>
<ellipse cx="989.3" cy="1324" rx="16.72" ry="7.76" fill="#555" fill-opacity="0.04" stroke="#555" stroke-width="0.8" stroke-opacity="0.65"/>
<ellipse cx="988.9" cy="1323.75" rx="14.06" ry="6.44" fill="#555" fill-opacity="0.04" stroke="#555" stroke-width="0.8" stroke-opacity="0.65"/>
<ellipse cx="988.5" cy="1323.5" rx="11.4" ry="5.15" fill="#555" fill-opacity="0.04" stroke="#555" stroke-width="0.8" stroke-opacity="0.65"/>
<ellipse cx="988.1" cy="1323.25" rx="8.74" ry="3.89" fill="#555" fill-opacity="0.04" stroke="#555" stroke-width="0.8" stroke-opacity="0.65"/>
<ellipse cx="987.7" cy="1323" rx="6.08" ry="2.67" fill="#555" fill-opacity="0.04" stroke="#555" stroke-width="0.8" stroke-opacity="0.65"/>
<ellipse cx="989.5" cy="1319.5" rx="24" ry="6" fill="#555" fill-opacity="0.22"/>
<ellipse cx="996.5" cy="1327" rx="11" ry="1.5" fill="#fff"/>
<ellipse cx="1036.5" cy="1325" rx="19" ry="16.5" fill="none" stroke="#555" stroke-width="0.8" stroke-opacity="0.6"/>
<ellipse cx="1035.9" cy="1325.1" rx="17.1" ry="14.85" fill="none" stroke="#555" stroke-width="0.8" stroke-opacity="0.6"/>
<ellipse cx="1035.3" cy="1325.2" rx="15.2" ry="13.2" fill="none" stroke="#555" stroke-width="0.8" stroke-opacity="0.6"/>
<ellipse cx="1034.7" cy="1325.3" rx="13.3" ry="11.55" fill="none" stroke="#555" stroke-width="0.8" stroke-opacity="0.6"/>
<ellipse cx="1034.1" cy="1325.4" rx="11.4" ry="9.9" fill="none" stroke="#555" stroke-width="0.8" stroke-opacity="0.6"/>
<ellipse cx="1033.5" cy="1325.5" rx="9.5" ry="8.25" fill="none" stroke="#555" stroke-width="0.8" stroke-opacity="0.6"/>
<ellipse cx="1032.9" cy="1325.6" rx="7.6" ry="6.6" fill="none" stroke="#555" stroke-width="0.8" stroke-opacity="0.6"/>
<ellipse cx="1032.3" cy="1325.7" rx="5.7" ry="4.95" fill="none" stroke="#555" stroke-width="0.8" stroke-opacity="0.6"/>
<ellipse cx="1031.7" cy="1325.8" rx="3.8" ry="3.3" fill="none" stroke="#555" stroke-width="0.8" stroke-opacity="0.6"/>
</g>
</g>
<rect x="960" y="1207" width="144.6" height="157.6" fill="none" stroke="#6e6e6e" stroke-width="1.1" />
<path d="M1022 1207L1022 1367.6" stroke="#2e2e2e" stroke-width="1.3" fill="none" />
<path d="M960 1309.4L1104.6 1309.4" stroke="#2e2e2e" stroke-width="1.3" fill="none" />
<path d="M960 1227.5h-3.6M960 1273h-3.6M960 1318h-3.6M960 1364.3h-3.6M960 1210h-1.5M960 1215.2h-1.5M960 1220.4h-1.5M960 1225.6h-1.5M960 1230.8h-1.5M960 1236h-1.5M960 1241.2h-1.5M960 1246.4h-1.5M960 1251.6h-1.5M960 1256.8h-1.5M960 1262h-1.5M960 1267.2h-1.5M960 1272.4h-1.5M960 1277.6h-1.5M960 1282.8h-1.5M960 1288h-1.5M960 1293.2h-1.5M960 1298.4h-1.5M960 1303.6h-1.5M960 1308.8h-1.5M960 1314h-1.5M960 1319.2h-1.5M960 1324.4h-1.5M960 1329.6h-1.5M960 1334.8h-1.5M960 1340h-1.5M960 1345.2h-1.5M960 1350.4h-1.5M960 1355.6h-1.5M960 1360.8h-1.5M963 1364.6v1.6M968.2 1364.6v1.6M973.4 1364.6v1.6M978.6 1364.6v1.6M983.8 1364.6v1.6M989 1364.6v1.6M994.2 1364.6v1.6M999.4 1364.6v1.6M1004.6 1364.6v1.6M1009.8 1364.6v1.6M1015 1364.6v1.6M1020.2 1364.6v1.6M1025.4 1364.6v1.6M1030.6 1364.6v1.6M1035.8 1364.6v1.6M1041 1364.6v1.6M1046.2 1364.6v1.6M1051.4 1364.6v1.6M1056.6 1364.6v1.6M1061.8 1364.6v1.6M1067 1364.6v1.6M1072.2 1364.6v1.6M1077.4 1364.6v1.6M1082.6 1364.6v1.6M1087.8 1364.6v1.6M1093 1364.6v1.6M1098.2 1364.6v1.6M1103.4 1364.6v1.6M1047 1364.6v3M1080 1364.6v3" stroke="#666" stroke-width="0.8" fill="none"/>
<rect x="974" y="1365.6" width="15" height="1.8" fill="#444"/>
<text transform="translate(960.79 1240.9)" font-size="21.48" font-family="Liberation Sans, sans-serif" fill="#000" stroke="#000" stroke-width="0.16">12.9</text>
<text transform="translate(1040.93 1240.9)" font-size="20.9" font-family="Liberation Sans, sans-serif" fill="#000" stroke="#000" stroke-width="0.16">16.0</text>
<text transform="translate(961.76 1346.5)" font-size="20.97" font-family="Liberation Sans, sans-serif" fill="#000" stroke="#000" stroke-width="0.16">53.9</text>
<text transform="translate(1041.81 1346.5)" font-size="19.86" font-family="Liberation Sans, sans-serif" fill="#000" stroke="#000" stroke-width="0.15">17.1</text>
<text transform="translate(609.49 1114.8) scale(1.0612 1)" font-size="41.5" font-family="Liberation Sans, sans-serif" font-weight="bold" fill="#000" stroke="#000" stroke-width="0.62">e</text>
<text transform="translate(699.9 1130.8)" font-size="26.99" font-family="Liberation Sans, sans-serif" fill="#0000ff" stroke="#0000ff" stroke-width="0.47">Conventional CD4 cells in liver</text>
<path d="M658 1140.3L1109.25 1140.3" stroke="#0000ff" stroke-width="1.9" fill="none" />
<text transform="translate(716.68 1197.9)" font-size="23.24" font-family="Liberation Sans, sans-serif" fill="#0000ff" stroke="#0000ff" stroke-width="0.41">WT</text>
<text transform="translate(847.98 1197.9)" font-size="23.31" font-family="Liberation Sans, sans-serif" fill="#0000ff" stroke="#0000ff" stroke-width="0.41">rKO1</text>
<text transform="translate(990.88 1168.3)" font-size="23.36" font-family="Liberation Sans, sans-serif" fill="#0000ff" stroke="#0000ff" stroke-width="0.41">rKO1</text>
<text transform="translate(946.05 1196.55)" font-size="23.69" font-family="Liberation Sans, sans-serif" fill="#ff40ff" stroke="#ff40ff" stroke-width="0.41">Full -dose TAM</text>
<text transform="translate(643.6 1313.97) rotate(-90)" font-size="26.88" font-family="Liberation Sans, sans-serif" fill="#0000ff" stroke="#0000ff" stroke-width="0.47">DAPI</text>
<path d="M662 1375.2L797 1375.2" stroke="#0000ff" stroke-width="1.9" fill="none" />
<path d="M967.5 1375.2L1105.75 1375.2" stroke="#0000ff" stroke-width="1.9" fill="none" />
<text transform="translate(830.43 1391.55)" font-size="26.52" font-family="Liberation Sans, sans-serif" fill="#0000ff" stroke="#0000ff" stroke-width="0.46">Annexin V</text>
<path d="M1243.95 1387.2V1225.25H1265.35V1387.2" fill="#fff" stroke="#000" stroke-width="2.7"/>
<path d="M1280.45 1387.2V1313.25H1301.65V1387.2" fill="#fff" stroke="#000" stroke-width="2.7"/>
<path d="M1317.15 1387.2V1230.45H1338.25V1387.2" fill="#fff" stroke="#000" stroke-width="2.7"/>
<path d="M1389.7 1387.2V1290.95H1410.85V1387.2" fill="#fff" stroke="#000" stroke-width="2.7"/>
<path d="M1426.45 1387.2V1351.75H1447.25V1387.2" fill="#fff" stroke="#000" stroke-width="2.7"/>
<path d="M1462.95 1387.2V1287.45H1483.85V1387.2" fill="#fff" stroke="#000" stroke-width="2.7"/>
<path d="M1230.5 1127.3L1230.5 1388.5" stroke="#000" stroke-width="2.7" fill="none" />
<path d="M1218.75 1387.2L1498.75 1387.2" stroke="#000" stroke-width="2.6" fill="none" />
<path d="M1218.75 1128.6L1230.5 1128.6" stroke="#000" stroke-width="2.4" fill="none" />
<text transform="translate(1186.32 1135.6)" font-size="20.4" font-family="Liberation Sans, sans-serif" fill="#000" stroke="#000" stroke-width="0.36">50</text>
<path d="M1218.75 1180.3L1230.5 1180.3" stroke="#000" stroke-width="2.4" fill="none" />
<text transform="translate(1186.32 1187.3)" font-size="20.4" font-family="Liberation Sans, sans-serif" fill="#000" stroke="#000" stroke-width="0.36">40</text>
<path d="M1218.75 1232L1230.5 1232" stroke="#000" stroke-width="2.4" fill="none" />
<text transform="translate(1186.32 1239)" font-size="20.4" font-family="Liberation Sans, sans-serif" fill="#000" stroke="#000" stroke-width="0.36">30</text>
<path d="M1218.75 1283.7L1230.5 1283.7" stroke="#000" stroke-width="2.4" fill="none" />
<text transform="translate(1186.32 1290.7)" font-size="20.4" font-family="Liberation Sans, sans-serif" fill="#000" stroke="#000" stroke-width="0.36">20</text>
<path d="M1218.75 1335.4L1230.5 1335.4" stroke="#000" stroke-width="2.4" fill="none" />
<text transform="translate(1186.32 1342.4)" font-size="20.4" font-family="Liberation Sans, sans-serif" fill="#000" stroke="#000" stroke-width="0.36">10</text>
<path d="M1218.75 1387.2L1230.5 1387.2" stroke="#000" stroke-width="2.4" fill="none" />
<text transform="translate(1197.64 1394.2)" font-size="20.4" font-family="Liberation Sans, sans-serif" fill="#000" stroke="#000" stroke-width="0.36">0</text>
<path d="M1254.66 1197.05V1250.08M1248.26 1197.05H1261.06M1248.26 1250.08H1261.06" stroke="#0000ff" stroke-width="1.4" fill="none"/>
<path d="M1291.18 1276.34V1347.13M1284.78 1276.34H1297.58M1284.78 1347.13H1297.58" stroke="#0000ff" stroke-width="1.4" fill="none"/>
<path d="M1327.69 1189.05V1268.84M1321.29 1189.05H1334.09M1321.29 1268.84H1334.09" stroke="#0000ff" stroke-width="1.4" fill="none"/>
<path d="M1400.3 1272.59V1307.61M1393.9 1272.59H1406.7M1393.9 1307.61H1406.7" stroke="#0000ff" stroke-width="1.4" fill="none"/>
<path d="M1436.82 1334.37V1365.14M1430.42 1334.37H1443.22M1430.42 1365.14H1443.22" stroke="#0000ff" stroke-width="1.4" fill="none"/>
<path d="M1473.34 1249.58V1321.62M1466.94 1249.58H1479.74M1466.94 1321.62H1479.74" stroke="#0000ff" stroke-width="1.4" fill="none"/>
<path d="M1250.76 1191.3a3.9 3.9 0 1 0 7.8 0a3.9 3.9 0 1 0 -7.8 0M1242.5 1204.56a3.9 3.9 0 1 0 7.8 0a3.9 3.9 0 1 0 -7.8 0M1250.76 1202.06a3.9 3.9 0 1 0 7.8 0a3.9 3.9 0 1 0 -7.8 0M1259.26 1199.3a3.9 3.9 0 1 0 7.8 0a3.9 3.9 0 1 0 -7.8 0M1250.76 1212.31a3.9 3.9 0 1 0 7.8 0a3.9 3.9 0 1 0 -7.8 0M1242.5 1246.33a3.9 3.9 0 1 0 7.8 0a3.9 3.9 0 1 0 -7.8 0M1250.76 1248.83a3.9 3.9 0 1 0 7.8 0a3.9 3.9 0 1 0 -7.8 0M1259.26 1252.08a3.9 3.9 0 1 0 7.8 0a3.9 3.9 0 1 0 -7.8 0M1242.5 1255.08a3.9 3.9 0 1 0 7.8 0a3.9 3.9 0 1 0 -7.8 0M1287.28 1277.09a3.9 3.9 0 1 0 7.8 0a3.9 3.9 0 1 0 -7.8 0M1287.28 1309.36a3.9 3.9 0 1 0 7.8 0a3.9 3.9 0 1 0 -7.8 0M1287.28 1348.88a3.9 3.9 0 1 0 7.8 0a3.9 3.9 0 1 0 -7.8 0M1315.04 1208.81a3.9 3.9 0 1 0 7.8 0a3.9 3.9 0 1 0 -7.8 0M1323.79 1208.81a3.9 3.9 0 1 0 7.8 0a3.9 3.9 0 1 0 -7.8 0M1332.55 1208.81a3.9 3.9 0 1 0 7.8 0a3.9 3.9 0 1 0 -7.8 0M1323.79 1289.1a3.9 3.9 0 1 0 7.8 0a3.9 3.9 0 1 0 -7.8 0M1388.4 1274.34a3.9 3.9 0 1 0 7.8 0a3.9 3.9 0 1 0 -7.8 0M1396.4 1269.59a3.9 3.9 0 1 0 7.8 0a3.9 3.9 0 1 0 -7.8 0M1404.91 1267.84a3.9 3.9 0 1 0 7.8 0a3.9 3.9 0 1 0 -7.8 0M1396.4 1281.1a3.9 3.9 0 1 0 7.8 0a3.9 3.9 0 1 0 -7.8 0M1388.4 1290.6a3.9 3.9 0 1 0 7.8 0a3.9 3.9 0 1 0 -7.8 0M1396.4 1295.1a3.9 3.9 0 1 0 7.8 0a3.9 3.9 0 1 0 -7.8 0M1388.4 1309.61a3.9 3.9 0 1 0 7.8 0a3.9 3.9 0 1 0 -7.8 0M1396.4 1306.36a3.9 3.9 0 1 0 7.8 0a3.9 3.9 0 1 0 -7.8 0M1404.91 1309.11a3.9 3.9 0 1 0 7.8 0a3.9 3.9 0 1 0 -7.8 0M1424.92 1339.62a3.9 3.9 0 1 0 7.8 0a3.9 3.9 0 1 0 -7.8 0M1441.17 1342.13a3.9 3.9 0 1 0 7.8 0a3.9 3.9 0 1 0 -7.8 0M1432.92 1367.64a3.9 3.9 0 1 0 7.8 0a3.9 3.9 0 1 0 -7.8 0M1469.44 1238.07a3.9 3.9 0 1 0 7.8 0a3.9 3.9 0 1 0 -7.8 0M1469.44 1279.84a3.9 3.9 0 1 0 7.8 0a3.9 3.9 0 1 0 -7.8 0M1469.44 1304.36a3.9 3.9 0 1 0 7.8 0a3.9 3.9 0 1 0 -7.8 0M1469.44 1320.12a3.9 3.9 0 1 0 7.8 0a3.9 3.9 0 1 0 -7.8 0" fill="#0000ff"/>
<path d="M1284.5 1176.5L1329.5 1176.5" stroke="#000" stroke-width="2.6" fill="none" />
<path d="M1432.25 1220.75L1471 1220.75" stroke="#000" stroke-width="2.6" fill="none" />
<text transform="translate(1283.64 1162.3)" font-size="21.57" font-family="Liberation Sans, sans-serif" fill="#000" stroke="#000" stroke-width="0.38">0.04</text>
<text transform="translate(1430.39 1207.8)" font-size="21.57" font-family="Liberation Sans, sans-serif" fill="#000" stroke="#000" stroke-width="0.38">0.04</text>
<text transform="translate(1241.93 1130.3)" font-size="26.64" font-family="Liberation Sans, sans-serif" fill="#0433ff" stroke="#0433ff" stroke-width="0.47">Annexin+</text>
<text transform="translate(1397.75 1130.3)" font-size="27.26" font-family="Liberation Sans, sans-serif" fill="#0433ff" stroke="#0433ff" stroke-width="0.48">DAPI+</text>
<text transform="translate(1496.35 1178.55)" font-size="23.1" font-family="Liberation Sans, sans-serif" fill="#000" stroke="#000" stroke-width="0.4"><tspan font-style="italic">n</tspan> = 3–9</text>
<text transform="translate(1168.5 1340.93) rotate(-90)" font-size="26.46" font-family="Liberation Sans, sans-serif" fill="#000" stroke="#000" stroke-width="0.46">% Total Tconv</text>
<text transform="translate(1232.9 1412.8)" font-size="19.64" font-family="Liberation Sans, sans-serif" fill="#000" stroke="#000" stroke-width="0.34">WT</text>
<text transform="translate(1271.18 1412.8)" font-size="20.27" font-family="Liberation Sans, sans-serif" fill="#000" stroke="#000" stroke-width="0.35">rKO</text>
<text transform="translate(1312.93 1412.8)" font-size="20.27" font-family="Liberation Sans, sans-serif" fill="#000" stroke="#000" stroke-width="0.35">rKO</text>
<text transform="translate(1382.9 1412.8)" font-size="19.64" font-family="Liberation Sans, sans-serif" fill="#000" stroke="#000" stroke-width="0.34">WT</text>
<text transform="translate(1417.43 1412.8)" font-size="20.27" font-family="Liberation Sans, sans-serif" fill="#000" stroke="#000" stroke-width="0.35">rKO</text>
<text transform="translate(1458.68 1412.8)" font-size="20.27" font-family="Liberation Sans, sans-serif" fill="#000" stroke="#000" stroke-width="0.35">rKO</text>
<path d="M1313.25 1419.5L1352.5 1419.5" stroke="#000" stroke-width="1.9" fill="none" />
<path d="M1458 1419.5L1498 1419.5" stroke="#000" stroke-width="1.9" fill="none" />
<text transform="translate(1314.49 1441.55)" font-size="21.37" font-family="Liberation Sans, sans-serif" fill="#ff40ff" stroke="#ff40ff" stroke-width="0.37">Full</text>
<text transform="translate(1462.49 1441.55)" font-size="21.37" font-family="Liberation Sans, sans-serif" fill="#ff40ff" stroke="#ff40ff" stroke-width="0.37">Full</text>
</svg></body></html>
